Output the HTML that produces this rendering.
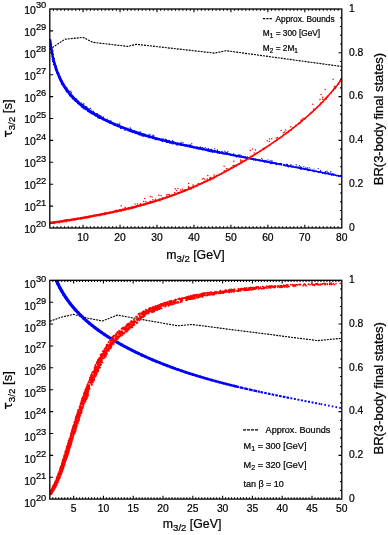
<!DOCTYPE html>
<html><head><meta charset="utf-8"><style>html,body{margin:0;padding:0;background:#fff;overflow:hidden}svg{display:block}</style></head>
<body>
<svg width="388" height="535" viewBox="0 0 388 535" font-family='"Liberation Sans", Arial, sans-serif' fill="#000">
<rect width="388" height="535" fill="#fff"/>
<style>text{stroke:#000;stroke-width:0.22px;paint-order:stroke}</style>
<text x="46.3" y="232.9" text-anchor="end" font-size="10.5">10<tspan font-size="9.3" dy="-5.5">20</tspan></text>
<text x="46.3" y="211" text-anchor="end" font-size="10.5">10<tspan font-size="9.3" dy="-5.5">21</tspan></text>
<text x="46.3" y="189.1" text-anchor="end" font-size="10.5">10<tspan font-size="9.3" dy="-5.5">22</tspan></text>
<text x="46.3" y="167.2" text-anchor="end" font-size="10.5">10<tspan font-size="9.3" dy="-5.5">23</tspan></text>
<text x="46.3" y="145.3" text-anchor="end" font-size="10.5">10<tspan font-size="9.3" dy="-5.5">24</tspan></text>
<text x="46.3" y="123.4" text-anchor="end" font-size="10.5">10<tspan font-size="9.3" dy="-5.5">25</tspan></text>
<text x="46.3" y="101.5" text-anchor="end" font-size="10.5">10<tspan font-size="9.3" dy="-5.5">26</tspan></text>
<text x="46.3" y="79.6" text-anchor="end" font-size="10.5">10<tspan font-size="9.3" dy="-5.5">27</tspan></text>
<text x="46.3" y="57.7" text-anchor="end" font-size="10.5">10<tspan font-size="9.3" dy="-5.5">28</tspan></text>
<text x="46.3" y="35.8" text-anchor="end" font-size="10.5">10<tspan font-size="9.3" dy="-5.5">29</tspan></text>
<text x="46.3" y="13.9" text-anchor="end" font-size="10.5">10<tspan font-size="9.3" dy="-5.5">30</tspan></text>
<text x="349" y="230.8" font-size="10.3">0</text>
<text x="349" y="187" font-size="10.3">0.2</text>
<text x="349" y="143.2" font-size="10.3">0.4</text>
<text x="349" y="99.4" font-size="10.3">0.6</text>
<text x="349" y="55.6" font-size="10.3">0.8</text>
<text x="349" y="11.8" font-size="10.3">1</text>
<text x="83.07" y="241.2" text-anchor="middle" font-size="10.3">10</text>
<text x="120.03" y="241.2" text-anchor="middle" font-size="10.3">20</text>
<text x="156.99" y="241.2" text-anchor="middle" font-size="10.3">30</text>
<text x="193.95" y="241.2" text-anchor="middle" font-size="10.3">40</text>
<text x="230.91" y="241.2" text-anchor="middle" font-size="10.3">50</text>
<text x="267.88" y="241.2" text-anchor="middle" font-size="10.3">60</text>
<text x="304.84" y="241.2" text-anchor="middle" font-size="10.3">70</text>
<text x="341.8" y="241.2" text-anchor="middle" font-size="10.3">80</text>
<text x="46.3" y="506.6" text-anchor="end" font-size="10.5">10<tspan font-size="9.3" dy="-5.5">20</tspan></text>
<text x="46.3" y="484.72" text-anchor="end" font-size="10.5">10<tspan font-size="9.3" dy="-5.5">21</tspan></text>
<text x="46.3" y="462.84" text-anchor="end" font-size="10.5">10<tspan font-size="9.3" dy="-5.5">22</tspan></text>
<text x="46.3" y="440.96" text-anchor="end" font-size="10.5">10<tspan font-size="9.3" dy="-5.5">23</tspan></text>
<text x="46.3" y="419.08" text-anchor="end" font-size="10.5">10<tspan font-size="9.3" dy="-5.5">24</tspan></text>
<text x="46.3" y="397.2" text-anchor="end" font-size="10.5">10<tspan font-size="9.3" dy="-5.5">25</tspan></text>
<text x="46.3" y="375.32" text-anchor="end" font-size="10.5">10<tspan font-size="9.3" dy="-5.5">26</tspan></text>
<text x="46.3" y="353.44" text-anchor="end" font-size="10.5">10<tspan font-size="9.3" dy="-5.5">27</tspan></text>
<text x="46.3" y="331.56" text-anchor="end" font-size="10.5">10<tspan font-size="9.3" dy="-5.5">28</tspan></text>
<text x="46.3" y="309.68" text-anchor="end" font-size="10.5">10<tspan font-size="9.3" dy="-5.5">29</tspan></text>
<text x="46.3" y="287.8" text-anchor="end" font-size="10.5">10<tspan font-size="9.3" dy="-5.5">30</tspan></text>
<text x="349" y="501.9" font-size="10.3">0</text>
<text x="349" y="458.14" font-size="10.3">0.2</text>
<text x="349" y="414.38" font-size="10.3">0.4</text>
<text x="349" y="370.62" font-size="10.3">0.6</text>
<text x="349" y="326.86" font-size="10.3">0.8</text>
<text x="349" y="283.1" font-size="10.3">1</text>
<text x="73.64" y="512.3" text-anchor="middle" font-size="10.3">5</text>
<text x="103.43" y="512.3" text-anchor="middle" font-size="10.3">10</text>
<text x="133.23" y="512.3" text-anchor="middle" font-size="10.3">15</text>
<text x="163.02" y="512.3" text-anchor="middle" font-size="10.3">20</text>
<text x="192.82" y="512.3" text-anchor="middle" font-size="10.3">25</text>
<text x="222.62" y="512.3" text-anchor="middle" font-size="10.3">30</text>
<text x="252.41" y="512.3" text-anchor="middle" font-size="10.3">35</text>
<text x="282.21" y="512.3" text-anchor="middle" font-size="10.3">40</text>
<text x="312" y="512.3" text-anchor="middle" font-size="10.3">45</text>
<text x="341.8" y="512.3" text-anchor="middle" font-size="10.3">50</text>
<text x="195.4" y="259.2" text-anchor="middle" font-size="12.3">m<tspan font-size="9.6" dy="2.6">3/2</tspan><tspan dy="-2.6"> [GeV]</tspan></text>
<text transform="translate(383 119.15) rotate(-90)" text-anchor="middle" font-size="13">BR(3-body final states)</text>
<text transform="translate(11.6 118.5) rotate(-90)" text-anchor="middle" font-size="13"><tspan font-size="12" font-family="&quot;DejaVu Sans&quot;, sans-serif">τ</tspan><tspan font-size="9.8" dy="3.4">3/2</tspan><tspan dy="-3.4"> [s]</tspan></text>
<text x="192.1" y="527.9" text-anchor="middle" font-size="12.3">m<tspan font-size="9.6" dy="2.6">3/2</tspan><tspan dy="-2.6"> [GeV]</tspan></text>
<text transform="translate(383 388.35) rotate(-90)" text-anchor="middle" font-size="13">BR(3-body final states)</text>
<text transform="translate(11.6 390.3) rotate(-90)" text-anchor="middle" font-size="13"><tspan font-size="12" font-family="&quot;DejaVu Sans&quot;, sans-serif">τ</tspan><tspan font-size="9.8" dy="3.4">3/2</tspan><tspan dy="-3.4"> [s]</tspan></text>
<defs><clipPath id="ct"><rect x="49.8" y="9.0" width="292.0" height="219.0"/></clipPath><clipPath id="cb"><rect x="49.8" y="280.3" width="292.0" height="218.8"/></clipPath></defs>
<g clip-path="url(#ct)">
<path d="M49.8 49.3 64.8 39.3 83.1 37.4 92.7 42.3 127.5 46.4 136.5 44.3 214.4 53.1 226 50.7 341.8 66.5" fill="none" stroke="#000" stroke-width="1.15" stroke-linejoin="round" stroke-dasharray="2 1" stroke-linecap="butt"/>
<path d="M50.3 40.22 50.36 40.89 50.42 41.56 50.49 42.24 50.56 42.92 50.64 43.59 50.72 44.27" fill="none" stroke="#0000ff" stroke-width="2.24" stroke-linejoin="round" stroke-linecap="round"/>
<path d="M50.72 44.27 50.8 44.95 50.88 45.64 50.97 46.32 51.07 47 51.16 47.69 51.27 48.37" fill="none" stroke="#0000ff" stroke-width="2.27" stroke-linejoin="round" stroke-linecap="round"/>
<path d="M51.27 48.37 51.37 49.06 51.48 49.75 51.59 50.44 51.71 51.12 51.83 51.81 51.95 52.5" fill="none" stroke="#0000ff" stroke-width="2.32" stroke-linejoin="round" stroke-linecap="round"/>
<path d="M51.95 52.5 52.08 53.19 52.21 53.88 52.35 54.57 52.49 55.26 52.63 55.95 52.78 56.64" fill="none" stroke="#0000ff" stroke-width="2.38" stroke-linejoin="round" stroke-linecap="round"/>
<path d="M52.78 56.64 52.93 57.33 53.09 58.02 53.25 58.7 53.41 59.39 53.58 60.08 53.76 60.76" fill="none" stroke="#0000ff" stroke-width="2.44" stroke-linejoin="round" stroke-linecap="round"/>
<path d="M53.76 60.76 53.93 61.45 54.12 62.13 54.3 62.82 54.49 63.5 54.69 64.18 54.89 64.86" fill="none" stroke="#0000ff" stroke-width="2.52" stroke-linejoin="round" stroke-linecap="round"/>
<path d="M54.89 64.86 55.09 65.54 55.3 66.21 55.51 66.89 55.73 67.56 55.95 68.23 56.17 68.9" fill="none" stroke="#0000ff" stroke-width="2.58" stroke-linejoin="round" stroke-linecap="round"/>
<path d="M56.17 68.9 56.41 69.57 56.64 70.24 56.88 70.9 57.13 71.56 57.37 72.22 57.63 72.88" fill="none" stroke="#0000ff" stroke-width="2.64" stroke-linejoin="round" stroke-linecap="round"/>
<path d="M57.63 72.88 57.89 73.54 58.15 74.19 58.42 74.84 58.69 75.49 58.97 76.13 59.25 76.77" fill="none" stroke="#0000ff" stroke-width="2.72" stroke-linejoin="round" stroke-linecap="round"/>
<path d="M59.25 76.77 59.54 77.41 59.83 78.04 60.13 78.68 60.43 79.31 60.74 79.93 61.05 80.55" fill="none" stroke="#0000ff" stroke-width="2.81" stroke-linejoin="round" stroke-linecap="round"/>
<path d="M61.05 80.55 61.37 81.17 61.69 81.79 62.02 82.4 62.35 83.01 62.69 83.61 63.03 84.21" fill="none" stroke="#0000ff" stroke-width="2.9" stroke-linejoin="round" stroke-linecap="round"/>
<path d="M63.03 84.21 63.38 84.81 63.74 85.4 64.1 85.98 64.46 86.57 64.83 87.15 65.2 87.72" fill="none" stroke="#0000ff" stroke-width="2.89" stroke-linejoin="round" stroke-linecap="round"/>
<path d="M65.2 87.72 65.58 88.29 65.97 88.86 66.36 89.42 66.76 89.97 67.16 90.52 67.56 91.07" fill="none" stroke="#0000ff" stroke-width="2.88" stroke-linejoin="round" stroke-linecap="round"/>
<path d="M67.56 91.07 67.98 91.61 68.39 92.15 68.81 92.68 69.24 93.21 69.67 93.74 70.11 94.26" fill="none" stroke="#0000ff" stroke-width="2.88" stroke-linejoin="round" stroke-linecap="round"/>
<path d="M70.11 94.26 70.55 94.78 70.99 95.29 71.44 95.8 71.9 96.3 72.36 96.8 72.82 97.29" fill="none" stroke="#0000ff" stroke-width="2.87" stroke-linejoin="round" stroke-linecap="round"/>
<path d="M72.82 97.29 73.29 97.79 73.76 98.27 74.24 98.76 74.72 99.23 75.2 99.71 75.69 100.18" fill="none" stroke="#0000ff" stroke-width="2.86" stroke-linejoin="round" stroke-linecap="round"/>
<path d="M75.69 100.18 76.19 100.65 76.68 101.11 77.18 101.57 77.69 102.03 78.2 102.48 78.71 102.93" fill="none" stroke="#0000ff" stroke-width="2.85" stroke-linejoin="round" stroke-linecap="round"/>
<path d="M78.71 102.93 79.23 103.37 79.75 103.81 80.27 104.25 80.8 104.68 81.33 105.11 81.86 105.54" fill="none" stroke="#0000ff" stroke-width="2.84" stroke-linejoin="round" stroke-linecap="round"/>
<path d="M81.86 105.54 82.4 105.96 82.94 106.38 83.48 106.8 84.03 107.21 84.58 107.62 85.13 108.02" fill="none" stroke="#0000ff" stroke-width="2.83" stroke-linejoin="round" stroke-linecap="round"/>
<path d="M85.13 108.02 85.69 108.43 86.25 108.83 86.81 109.22 87.37 109.61 87.94 110 88.51 110.39" fill="none" stroke="#0000ff" stroke-width="2.81" stroke-linejoin="round" stroke-linecap="round"/>
<path d="M88.51 110.39 89.09 110.77 89.66 111.15 90.24 111.53 90.82 111.9 91.4 112.27 91.99 112.64" fill="none" stroke="#0000ff" stroke-width="2.8" stroke-linejoin="round" stroke-linecap="round"/>
<path d="M91.99 112.64 92.58 113.01 93.17 113.37 93.76 113.73 94.35 114.08 94.95 114.43 95.55 114.78" fill="none" stroke="#0000ff" stroke-width="2.79" stroke-linejoin="round" stroke-linecap="round"/>
<path d="M95.55 114.78 96.15 115.13 96.75 115.48 97.36 115.82 97.96 116.16 98.57 116.49 99.18 116.83" fill="none" stroke="#0000ff" stroke-width="2.78" stroke-linejoin="round" stroke-linecap="round"/>
<path d="M99.18 116.83 99.79 117.16 100.4 117.49 101.02 117.82 101.63 118.14 102.25 118.46 102.87 118.78" fill="none" stroke="#0000ff" stroke-width="2.77" stroke-linejoin="round" stroke-linecap="round"/>
<path d="M102.87 118.78 103.49 119.1 104.11 119.41 104.73 119.72 105.36 120.03 105.98 120.34 106.61 120.64" fill="none" stroke="#0000ff" stroke-width="2.75" stroke-linejoin="round" stroke-linecap="round"/>
<path d="M106.61 120.64 107.23 120.95 107.86 121.25 108.49 121.55 109.12 121.84 109.75 122.14 110.38 122.43" fill="none" stroke="#0000ff" stroke-width="2.74" stroke-linejoin="round" stroke-linecap="round"/>
<path d="M110.38 122.43 111.01 122.72 111.64 123.01 112.27 123.29 112.91 123.58 113.54 123.86 114.18 124.14" fill="none" stroke="#0000ff" stroke-width="2.73" stroke-linejoin="round" stroke-linecap="round"/>
<path d="M114.18 124.14 114.81 124.41 115.45 124.69 116.09 124.96 116.72 125.24 117.36 125.51 118 125.77" fill="none" stroke="#0000ff" stroke-width="2.71" stroke-linejoin="round" stroke-linecap="round"/>
<path d="M118 125.77 118.64 126.04 119.29 126.3 119.93 126.57 120.57 126.83 121.21 127.08 121.86 127.34" fill="none" stroke="#0000ff" stroke-width="2.7" stroke-linejoin="round" stroke-linecap="round"/>
<path d="M121.86 127.34 122.5 127.6 123.15 127.85 123.79 128.1 124.44 128.35 125.09 128.6 125.73 128.84" fill="none" stroke="#0000ff" stroke-width="2.68" stroke-linejoin="round" stroke-linecap="round"/>
<path d="M125.73 128.84 126.38 129.09 127.03 129.33 127.68 129.57 128.33 129.81 128.98 130.04 129.64 130.28" fill="none" stroke="#0000ff" stroke-width="2.66" stroke-linejoin="round" stroke-linecap="round"/>
<path d="M129.64 130.28 130.29 130.51 130.94 130.75 131.6 130.98 132.25 131.21 132.9 131.43 133.56 131.66" fill="none" stroke="#0000ff" stroke-width="2.64" stroke-linejoin="round" stroke-linecap="round"/>
<path d="M133.56 131.66 134.22 131.88 134.87 132.11 135.53 132.33 136.19 132.55 136.84 132.76 137.5 132.98" fill="none" stroke="#0000ff" stroke-width="2.62" stroke-linejoin="round" stroke-linecap="round"/>
<path d="M137.5 132.98 138.16 133.2 138.82 133.41 139.48 133.62 140.14 133.83 140.8 134.04 141.47 134.25" fill="none" stroke="#0000ff" stroke-width="2.6" stroke-linejoin="round" stroke-linecap="round"/>
<path d="M141.47 134.25 142.13 134.45 142.79 134.66 143.45 134.86 144.12 135.07 144.78 135.27 145.45 135.47" fill="none" stroke="#0000ff" stroke-width="2.57" stroke-linejoin="round" stroke-linecap="round"/>
<path d="M145.45 135.47 146.11 135.66 146.78 135.86 147.44 136.06 148.11 136.25 148.78 136.44 149.44 136.64" fill="none" stroke="#0000ff" stroke-width="2.55" stroke-linejoin="round" stroke-linecap="round"/>
<path d="M149.44 136.64 150.11 136.83 150.78 137.02 151.45 137.2 152.12 137.39 152.79 137.58 153.46 137.76" fill="none" stroke="#0000ff" stroke-width="2.53" stroke-linejoin="round" stroke-linecap="round"/>
<path d="M153.46 137.76 154.13 137.95 154.8 138.13 155.47 138.31 156.14 138.49 156.81 138.67 157.48 138.85" fill="none" stroke="#0000ff" stroke-width="2.51" stroke-linejoin="round" stroke-linecap="round"/>
<path d="M157.48 138.85 158.15 139.02 158.83 139.2 159.5 139.38 160.17 139.55 160.85 139.72 161.52 139.9" fill="none" stroke="#0000ff" stroke-width="2.49" stroke-linejoin="round" stroke-linecap="round"/>
<path d="M161.52 139.9 162.19 140.07 162.87 140.24 163.54 140.41 164.22 140.57 164.89 140.74 165.57 140.91" fill="none" stroke="#0000ff" stroke-width="2.47" stroke-linejoin="round" stroke-linecap="round"/>
<path d="M165.57 140.91 166.25 141.07 166.92 141.24 167.6 141.4 168.27 141.56 168.95 141.73 169.63 141.89" fill="none" stroke="#0000ff" stroke-width="2.44" stroke-linejoin="round" stroke-linecap="round"/>
<path d="M169.63 141.89 170.3 142.05 170.98 142.21 171.66 142.37 172.34 142.53 173.02 142.68 173.69 142.84" fill="none" stroke="#0000ff" stroke-width="2.42" stroke-linejoin="round" stroke-linecap="round"/>
<path d="M173.69 142.84 174.37 143 175.05 143.15 175.73 143.31 176.41 143.46 177.09 143.61 177.77 143.77" fill="none" stroke="#0000ff" stroke-width="2.4" stroke-linejoin="round" stroke-linecap="round"/>
<path d="M177.77 143.77 178.45 143.92 179.13 144.07 179.81 144.22 180.48 144.37 181.16 144.52 181.84 144.67" fill="none" stroke="#0000ff" stroke-width="2.38" stroke-linejoin="round" stroke-linecap="round"/>
<path d="M181.84 144.67 182.52 144.82 183.21 144.97 183.89 145.12 184.57 145.26 185.25 145.41 185.93 145.56" fill="none" stroke="#0000ff" stroke-width="2.36" stroke-linejoin="round" stroke-linecap="round"/>
<path d="M185.93 145.56 186.61 145.7 187.29 145.85 187.97 145.99 188.65 146.14 189.33 146.28 190.01 146.43" fill="none" stroke="#0000ff" stroke-width="2.33" stroke-linejoin="round" stroke-linecap="round"/>
<path d="M190.01 146.43 190.69 146.57 191.37 146.71 192.05 146.86 192.73 147 193.42 147.14 194.1 147.28" fill="none" stroke="#0000ff" stroke-width="2.31" stroke-linejoin="round" stroke-linecap="round"/>
<path d="M194.1 147.28 194.78 147.43 195.46 147.57 196.14 147.71 196.82 147.85 197.5 147.99 198.18 148.13" fill="none" stroke="#0000ff" stroke-width="2.29" stroke-linejoin="round" stroke-linecap="round"/>
<path d="M198.18 148.13 198.86 148.27 199.54 148.41 200.22 148.55 200.9 148.69 201.59 148.83 202.27 148.97" fill="none" stroke="#0000ff" stroke-width="2.27" stroke-linejoin="round" stroke-linecap="round"/>
<path d="M202.27 148.97 202.95 149.11 203.63 149.25 204.31 149.39 204.99 149.53 205.67 149.67 206.35 149.8" fill="none" stroke="#0000ff" stroke-width="2.25" stroke-linejoin="round" stroke-linecap="round"/>
<path d="M206.35 149.8 207.03 149.94 207.71 150.08 208.39 150.22 209.07 150.36 209.75 150.5 210.43 150.63" fill="none" stroke="#0000ff" stroke-width="2.22" stroke-linejoin="round" stroke-linecap="round"/>
<path d="M210.43 150.63 211.11 150.77 211.79 150.91 212.47 151.05 213.15 151.18 213.83 151.32 214.51 151.46" fill="none" stroke="#0000ff" stroke-width="2.2" stroke-linejoin="round" stroke-linecap="round"/>
<path d="M214.51 151.46 215.19 151.59 215.87 151.73 216.54 151.87 217.22 152 217.9 152.14 218.58 152.28" fill="none" stroke="#0000ff" stroke-width="2.18" stroke-linejoin="round" stroke-linecap="round"/>
<path d="M218.58 152.28 219.26 152.41 219.94 152.55 220.62 152.68 221.3 152.82 221.98 152.95 222.66 153.09" fill="none" stroke="#0000ff" stroke-width="2.16" stroke-linejoin="round" stroke-linecap="round"/>
<path d="M222.66 153.09 223.34 153.23 224.02 153.36 224.7 153.5 225.38 153.63 226.05 153.77 226.73 153.9" fill="none" stroke="#0000ff" stroke-width="2.14" stroke-linejoin="round" stroke-linecap="round"/>
<path d="M226.73 153.9 227.41 154.04 228.09 154.17 228.77 154.3 229.45 154.44 230.13 154.57 230.81 154.71" fill="none" stroke="#0000ff" stroke-width="2.11" stroke-linejoin="round" stroke-linecap="round"/>
<path d="M230.81 154.71 231.49 154.84 232.17 154.98 232.84 155.11 233.52 155.24 234.2 155.38 234.88 155.51" fill="none" stroke="#0000ff" stroke-width="2.09" stroke-linejoin="round" stroke-linecap="round"/>
<path d="M234.88 155.51 235.56 155.64 236.24 155.78 236.92 155.91 237.6 156.04 238.27 156.18 238.95 156.31" fill="none" stroke="#0000ff" stroke-width="2.07" stroke-linejoin="round" stroke-linecap="round"/>
<path d="M238.95 156.31 239.63 156.44 240.31 156.58 240.99 156.71 241.67 156.84 242.35 156.98 243.03 157.11" fill="none" stroke="#0000ff" stroke-width="2.05" stroke-linejoin="round" stroke-linecap="round"/>
<path d="M243.03 157.11 243.7 157.24 244.38 157.37 245.06 157.51 245.74 157.64 246.42 157.77 247.1 157.9" fill="none" stroke="#0000ff" stroke-width="2.03" stroke-linejoin="round" stroke-linecap="round"/>
<path d="M247.1 157.9 247.78 158.04 248.45 158.17 249.13 158.3 249.81 158.43 250.49 158.56 251.17 158.7" fill="none" stroke="#0000ff" stroke-width="2" stroke-linejoin="round" stroke-linecap="round"/>
<path d="M251.17 158.7 251.85 158.83 252.53 158.96 253.2 159.09 253.88 159.22 254.56 159.36 255.24 159.49" fill="none" stroke="#0000ff" stroke-width="1.98" stroke-linejoin="round" stroke-linecap="round"/>
<path d="M255.24 159.49 255.92 159.62 256.6 159.75 257.28 159.88 257.95 160.01 258.63 160.15 259.31 160.28" fill="none" stroke="#0000ff" stroke-width="1.95" stroke-linejoin="round" stroke-linecap="round"/>
<path d="M259.31 160.28 259.99 160.41 260.67 160.54 261.35 160.67 262.03 160.8 262.7 160.94 263.38 161.07" fill="none" stroke="#0000ff" stroke-width="1.93" stroke-linejoin="round" stroke-linecap="round"/>
<path d="M263.38 161.07 264.06 161.2 264.74 161.33 265.42 161.46 266.1 161.59 266.78 161.72 267.46 161.86" fill="none" stroke="#0000ff" stroke-width="1.9" stroke-linejoin="round" stroke-linecap="round"/>
<path d="M267.46 161.86 268.13 161.99 268.81 162.12 269.49 162.25 270.17 162.38 270.85 162.51 271.53 162.64" fill="none" stroke="#0000ff" stroke-width="1.87" stroke-linejoin="round" stroke-linecap="round"/>
<path d="M271.53 162.64 272.21 162.78 272.89 162.91 273.57 163.04 274.24 163.17 274.92 163.3 275.6 163.43" fill="none" stroke="#0000ff" stroke-width="1.85" stroke-linejoin="round" stroke-linecap="round"/>
<path d="M275.6 163.43 276.28 163.56 276.96 163.69 277.64 163.83 278.32 163.96 279 164.09 279.68 164.22" fill="none" stroke="#0000ff" stroke-width="1.82" stroke-linejoin="round" stroke-linecap="round"/>
<path d="M279.68 164.22 280.36 164.35 281.03 164.48 281.71 164.61 282.39 164.75 283.07 164.88 283.75 165.01" fill="none" stroke="#0000ff" stroke-width="1.79" stroke-linejoin="round" stroke-linecap="round"/>
<path d="M283.75 165.01 284.43 165.14 285.11 165.27 285.79 165.4 286.47 165.54 287.15 165.67 287.83 165.8" fill="none" stroke="#0000ff" stroke-width="1.77" stroke-linejoin="round" stroke-linecap="round"/>
<path d="M287.83 165.8 288.51 165.93 289.19 166.06 289.87 166.2 290.55 166.33 291.23 166.46 291.91 166.59" fill="none" stroke="#0000ff" stroke-width="1.74" stroke-linejoin="round" stroke-linecap="round"/>
<path d="M291.91 166.59 292.59 166.72 293.27 166.86 293.95 166.99 294.63 167.12 295.31 167.25 295.99 167.38" fill="none" stroke="#0000ff" stroke-width="1.71" stroke-linejoin="round" stroke-linecap="round"/>
<path d="M295.99 167.38 296.67 167.52 297.35 167.65 298.03 167.78 298.71 167.91 299.39 168.05 300.07 168.18" fill="none" stroke="#0000ff" stroke-width="1.69" stroke-linejoin="round" stroke-linecap="round"/>
<path d="M300.07 168.18 300.75 168.31 301.43 168.45 302.11 168.58 302.79 168.71 303.47 168.84 304.15 168.98" fill="none" stroke="#0000ff" stroke-width="1.66" stroke-linejoin="round" stroke-linecap="round"/>
<path d="M304.15 168.98 304.83 169.11 305.51 169.24 306.19 169.38 306.87 169.51 307.55 169.64 308.23 169.78" fill="none" stroke="#0000ff" stroke-width="1.63" stroke-linejoin="round" stroke-linecap="round"/>
<path d="M308.23 169.78 308.92 169.91 309.6 170.05 310.28 170.18 310.96 170.31 311.64 170.45 312.32 170.58" fill="none" stroke="#0000ff" stroke-width="1.61" stroke-linejoin="round" stroke-linecap="round"/>
<path d="M312.32 170.58 313 170.72 313.68 170.85 314.37 170.99 315.05 171.12 315.73 171.25 316.41 171.39" fill="none" stroke="#0000ff" stroke-width="1.58" stroke-linejoin="round" stroke-linecap="round"/>
<path d="M316.41 171.39 317.09 171.52 317.77 171.66 318.46 171.79 319.14 171.93 319.82 172.06 320.5 172.2" fill="none" stroke="#0000ff" stroke-width="1.55" stroke-linejoin="round" stroke-linecap="round"/>
<path d="M320.5 172.2 321.18 172.34 321.87 172.47 322.55 172.61 323.23 172.74 323.91 172.88 324.6 173.01" fill="none" stroke="#0000ff" stroke-width="1.53" stroke-linejoin="round" stroke-linecap="round"/>
<path d="M324.6 173.01 325.28 173.15 325.96 173.29 326.64 173.42 327.33 173.56 328.01 173.7 328.69 173.83" fill="none" stroke="#0000ff" stroke-width="1.5" stroke-linejoin="round" stroke-linecap="round"/>
<path d="M328.69 173.83 329.38 173.97 330.06 174.11 330.74 174.25 331.43 174.38 332.11 174.52 332.79 174.66" fill="none" stroke="#0000ff" stroke-width="1.47" stroke-linejoin="round" stroke-linecap="round"/>
<path d="M332.79 174.66 333.48 174.8 334.16 174.93 334.84 175.07 335.53 175.21 336.21 175.35 336.89 175.49" fill="none" stroke="#0000ff" stroke-width="1.45" stroke-linejoin="round" stroke-linecap="round"/>
<path d="M336.89 175.49 337.58 175.63 338.26 175.76 338.95 175.9 339.63 176.04 340.32 176.18 341 176.32" fill="none" stroke="#0000ff" stroke-width="1.42" stroke-linejoin="round" stroke-linecap="round"/>
<path d="M341 176.32 341.68 176.46" fill="none" stroke="#0000ff" stroke-width="1.4" stroke-linejoin="round" stroke-linecap="round"/>
<path d="M50.1 40.7h0M50.9 43.7h0M51.2 44.6h0M50.3 45.0h0M50.1 46.0h0M50.1 47.3h0M50.7 47.7h0M50.3 49.8h0M51.2 49.7h0M52.2 49.8h0M51.9 51.3h0M51.7 52.4h0M51.6 53.2h0M53.5 53.8h0M53.5 54.6h0M52.9 55.0h0M53.8 57.8h0M52.9 58.0h0M54.0 58.0h0M54.5 58.7h0M52.1 59.3h0M53.6 60.7h0M52.5 61.2h0M52.9 61.7h0M55.2 63.1h0M53.4 64.4h0M54.3 64.4h0M56.3 65.9h0M54.9 67.1h0M56.3 66.9h0M55.9 68.1h0M55.1 69.2h0M55.7 70.0h0M55.8 70.0h0M55.9 70.2h0M56.2 70.9h0M57.2 71.4h0M58.1 72.3h0M57.1 73.0h0M59.0 73.3h0M58.2 73.7h0M57.9 74.3h0M58.3 74.1h0M58.9 73.9h0M59.0 77.4h0M60.6 77.2h0M60.8 78.5h0M61.1 81.7h0M62.4 82.1h0M62.0 82.6h0M61.3 84.2h0M64.9 86.4h0M64.6 87.8h0M64.9 87.6h0M67.1 88.2h0M66.6 88.8h0M66.5 88.9h0M66.3 90.3h0M67.7 89.6h0M66.0 91.1h0M67.0 91.9h0M69.8 93.6h0M69.7 95.3h0M70.1 96.4h0M72.3 95.4h0M71.7 96.2h0M72.1 95.9h0M71.6 96.7h0M73.4 96.3h0M72.3 98.8h0M73.6 97.6h0M73.3 98.9h0M75.4 98.5h0M76.3 98.7h0M75.3 100.4h0M77.8 100.3h0M77.8 101.1h0M77.5 102.9h0M77.7 103.1h0M79.3 104.7h0M80.3 103.9h0M81.5 104.0h0M82.3 104.1h0M83.6 104.9h0M82.0 107.4h0M83.0 106.0h0M82.8 108.0h0M84.1 107.1h0M83.7 108.8h0M86.0 107.0h0M85.8 107.7h0M86.0 108.4h0M87.3 107.8h0M87.9 108.6h0M87.8 111.4h0M89.3 111.0h0M89.1 112.6h0M90.6 112.3h0M90.4 113.0h0M92.8 112.0h0M93.2 111.4h0M91.9 113.9h0M94.2 112.6h0M94.5 112.5h0M94.1 113.7h0M94.5 115.0h0M95.1 114.4h0M95.0 115.2h0M96.1 113.7h0M95.6 115.1h0M96.2 114.0h0M95.7 115.9h0M96.8 114.9h0M97.7 116.4h0M97.6 117.6h0M98.1 117.3h0M99.2 115.3h0M98.3 118.0h0M99.1 118.1h0M99.5 118.5h0M100.4 117.8h0M100.6 117.9h0M103.0 117.7h0M103.1 119.6h0M104.0 119.6h0M104.0 119.5h0M108.0 120.4h0M108.3 121.1h0M108.7 120.7h0M108.9 121.4h0M110.0 121.4h0M109.8 121.8h0M111.0 121.6h0M111.6 123.5h0M112.6 122.5h0M114.9 123.3h0M114.8 123.7h0M115.1 124.7h0M114.9 125.2h0M117.7 126.2h0M120.6 128.4h0M121.8 126.8h0M122.2 127.1h0M123.3 127.8h0M124.6 127.3h0M124.8 130.2h0M125.3 129.7h0M126.7 128.8h0M127.7 129.7h0M128.1 130.8h0M130.0 129.0h0M130.4 131.7h0M131.5 129.4h0M131.5 129.3h0M132.5 130.3h0M132.2 132.6h0M133.3 131.1h0M133.9 131.6h0M135.4 131.1h0M135.8 131.5h0M135.0 133.6h0M136.1 133.6h0M136.8 132.3h0M137.9 133.1h0M138.3 133.4h0M138.4 134.6h0M139.8 135.3h0M140.8 132.9h0M141.7 133.6h0M142.2 134.5h0M142.4 135.4h0M142.2 136.0h0M143.1 133.9h0M142.8 135.8h0M142.9 136.2h0M143.6 134.8h0M143.5 136.1h0M146.6 136.1h0M147.1 135.3h0M147.2 136.7h0M149.0 137.9h0M152.7 137.5h0M152.9 136.7h0M152.7 138.6h0M153.6 136.4h0M154.1 137.3h0M154.1 137.1h0M155.0 139.6h0M155.7 137.9h0M155.8 139.6h0M156.5 138.8h0M157.5 139.0h0M157.9 139.6h0M158.2 139.3h0M158.7 139.2h0M159.5 138.4h0M162.0 141.5h0M162.4 141.0h0M162.3 141.6h0M163.7 139.1h0M165.1 140.5h0M166.4 139.7h0M166.3 141.1h0M166.1 141.7h0M166.5 140.0h0M166.7 142.5h0M167.7 140.5h0M167.7 142.4h0M168.1 141.8h0M168.8 141.3h0M169.6 142.1h0M169.6 143.1h0M170.2 142.7h0M170.7 142.8h0M171.3 143.5h0M171.5 142.6h0M173.0 141.7h0M172.8 144.1h0M173.7 142.0h0M174.2 142.2h0M175.2 143.6h0M175.5 143.2h0M176.3 144.3h0M176.9 145.0h0M177.2 145.0h0M177.6 144.1h0M177.7 145.1h0M178.0 143.5h0M180.4 143.2h0M180.3 144.9h0M180.7 145.3h0M181.4 143.3h0M181.9 144.5h0M182.1 144.5h0M182.6 144.8h0M183.2 145.6h0M184.2 145.7h0M186.2 144.9h0M186.2 144.7h0M187.6 145.2h0M187.4 146.1h0M188.7 145.1h0M190.1 145.5h0M190.7 145.2h0M190.9 146.4h0M191.7 147.6h0M192.1 145.8h0M193.2 147.6h0M193.6 147.1h0M194.1 147.1h0M196.4 148.4h0M197.0 146.6h0M196.7 148.4h0M196.8 148.8h0M197.6 147.5h0M199.0 149.5h0M199.7 147.3h0M200.9 147.4h0M200.8 148.0h0M201.1 149.3h0M201.3 149.6h0M201.3 149.3h0M202.3 148.1h0M202.6 149.3h0M202.8 149.6h0M203.1 148.1h0M202.9 150.2h0M204.4 149.3h0M204.6 149.3h0M206.7 149.1h0M207.3 150.0h0M207.5 150.0h0M207.3 151.0h0M208.8 151.6h0M209.1 150.1h0M208.8 151.5h0M209.3 151.4h0M210.0 150.3h0M210.6 150.0h0M211.1 150.3h0M210.8 151.8h0M211.9 149.7h0M212.0 151.9h0M212.8 152.0h0M212.7 152.3h0M214.4 150.3h0M214.4 151.3h0M215.1 150.4h0M215.3 151.0h0M216.0 151.0h0M217.6 153.2h0M218.0 151.3h0M218.2 151.6h0M218.7 151.6h0M219.5 151.3h0M219.6 153.5h0M222.9 153.6h0M223.6 154.0h0M224.3 154.1h0M225.8 153.2h0M227.6 153.2h0M228.1 154.4h0M229.0 153.4h0M230.0 154.0h0M230.4 154.3h0M231.3 154.8h0M233.7 154.1h0M236.3 156.7h0M236.6 156.3h0M237.0 156.9h0M237.3 155.3h0M239.6 155.5h0M239.6 156.7h0M240.6 157.0h0M241.3 157.2h0M242.0 156.0h0M244.8 157.7h0M245.3 157.7h0M245.5 156.7h0M246.4 158.6h0M247.5 156.9h0M248.1 159.1h0M248.8 158.1h0M249.0 158.5h0M251.0 158.3h0M251.4 158.9h0M253.5 160.0h0M254.6 159.5h0M255.7 160.3h0M255.7 160.4h0M258.2 160.5h0M260.4 160.9h0M262.2 161.3h0M262.7 159.8h0M264.3 162.3h0M264.9 160.3h0M264.7 161.1h0M266.1 160.5h0M267.8 161.2h0M269.8 161.2h0M270.4 163.3h0M270.9 163.7h0M271.5 162.8h0M271.7 161.8h0M272.1 162.4h0M272.5 163.1h0M273.0 163.2h0M273.3 163.1h0M274.5 163.1h0M274.8 162.9h0M275.4 163.8h0M275.7 163.5h0M276.1 162.9h0M276.5 164.7h0M277.0 163.7h0M280.6 163.3h0M281.0 163.8h0M281.6 163.5h0M281.8 165.0h0M282.9 165.7h0M284.2 164.7h0M285.5 165.7h0M287.4 166.5h0M288.5 167.0h0M290.7 165.3h0M291.9 166.7h0M292.2 166.4h0M293.1 165.8h0M293.2 166.7h0M295.9 166.9h0M297.1 167.3h0M298.5 167.1h0M298.6 167.7h0M298.9 167.6h0M299.2 167.1h0M301.1 167.9h0M301.2 167.6h0M300.8 169.4h0M301.5 167.4h0M301.6 168.2h0M301.7 168.6h0M302.0 168.4h0M303.1 168.1h0M304.8 169.6h0M305.8 168.4h0M305.9 169.2h0M307.3 168.8h0M307.3 170.3h0M308.5 170.6h0M308.7 169.6h0M309.1 170.1h0M309.8 170.3h0M312.7 170.0h0M313.3 170.7h0M313.9 171.6h0M314.9 171.7h0M315.2 171.5h0M318.3 172.3h0M318.9 172.1h0M319.4 172.1h0M320.4 172.4h0M321.0 171.7h0M322.5 173.0h0M322.7 173.4h0M324.5 173.5h0M325.1 174.0h0M325.8 173.2h0M326.2 173.7h0M327.6 173.0h0M329.2 174.0h0M329.8 174.6h0M331.5 175.3h0M331.7 174.0h0M332.1 173.6h0M332.3 173.8h0M333.2 174.2h0M333.5 174.0h0M333.6 175.1h0M334.8 174.2h0M337.0 176.0h0M338.4 175.3h0M338.7 176.4h0M338.9 176.6h0M340.4 175.4h0M341.6 175.7h0" fill="none" stroke="#0000ff" stroke-width="1.2" stroke-linecap="round"/>
<path d="M53.2 50.9h0M69.9 91.3h0M70.9 91.1h0M71.6 92.5h0M77.9 100.5h0M81.2 102.8h0M82.8 104.7h0M83.8 103.5h0M84.0 104.0h0M84.8 106.2h0M85.6 106.7h0M86.9 106.6h0M86.4 107.3h0M89.0 108.8h0M88.8 109.1h0M88.9 108.9h0M90.4 108.4h0M89.6 109.6h0M91.7 110.0h0M93.3 111.3h0M96.3 113.8h0M97.5 113.7h0M97.8 114.3h0M98.5 115.0h0M99.1 115.0h0M100.3 115.9h0M101.2 116.2h0M102.9 117.2h0M103.2 116.8h0M107.6 119.0h0M110.8 120.3h0M117.4 123.9h0M118.9 124.2h0M119.9 123.0h0M119.6 124.9h0M119.6 125.0h0M128.0 128.0h0M130.2 127.9h0M130.6 128.2h0M134.5 130.6h0M136.8 131.4h0M136.8 131.4h0M138.7 132.0h0M139.2 132.1h0M140.1 132.6h0M140.3 131.9h0M144.0 133.7h0M148.8 134.8h0M150.0 134.2h0M152.1 136.0h0M152.9 135.1h0M153.8 135.7h0M162.7 138.9h0M165.7 139.0h0M166.1 139.7h0M169.0 140.3h0M169.5 140.5h0M172.5 140.5h0M180.2 142.9h0M181.9 142.1h0M183.3 142.8h0M190.0 144.6h0M190.9 145.3h0M191.8 143.6h0M200.3 146.8h0M202.7 147.8h0M205.2 147.6h0M208.1 148.8h0M208.6 148.6h0M211.0 149.4h0M211.5 149.3h0M214.7 148.6h0M217.4 150.7h0M217.5 149.9h0M221.8 151.6h0M222.3 151.3h0M224.4 151.0h0M225.3 151.9h0M226.7 152.5h0M227.2 152.4h0M227.9 151.5h0M233.5 153.9h0M238.4 154.9h0M240.0 154.6h0M241.4 155.5h0M250.9 156.4h0M261.7 158.4h0M268.0 159.8h0M271.0 160.4h0M272.4 161.0h0M282.6 163.4h0M286.5 164.2h0M287.5 164.4h0M291.0 164.7h0M296.1 164.7h0M296.9 166.1h0M299.5 165.7h0M300.8 166.7h0M303.9 166.7h0M305.7 167.9h0M307.2 167.8h0M307.7 168.2h0M309.3 167.8h0M310.6 169.0h0M314.1 169.0h0M318.3 168.6h0M320.5 170.3h0M325.3 171.6h0M325.8 171.8h0M327.0 171.1h0M327.3 172.0h0M328.7 172.5h0M330.9 171.7h0M330.7 173.0h0" fill="none" stroke="#0000ff" stroke-width="1.2" stroke-linecap="round"/>
<path d="M282.6 160v8" stroke="#fff" stroke-width="0.9"/>
<path d="M49.79 223.09 50.44 223 51.1 222.9 51.76 222.8 52.42 222.7 53.08 222.61 53.74 222.51" fill="none" stroke="#ff0000" stroke-width="2.4" stroke-linejoin="round" stroke-linecap="round"/>
<path d="M53.74 222.51 54.39 222.41 55.05 222.31 55.71 222.21 56.37 222.11 57.03 222.02 57.69 221.92" fill="none" stroke="#ff0000" stroke-width="2.39" stroke-linejoin="round" stroke-linecap="round"/>
<path d="M57.69 221.92 58.35 221.82 59.01 221.72 59.67 221.62 60.33 221.51 60.98 221.41 61.64 221.31" fill="none" stroke="#ff0000" stroke-width="2.38" stroke-linejoin="round" stroke-linecap="round"/>
<path d="M61.64 221.31 62.3 221.21 62.96 221.11 63.62 221.01 64.28 220.9 64.94 220.8 65.6 220.7" fill="none" stroke="#ff0000" stroke-width="2.37" stroke-linejoin="round" stroke-linecap="round"/>
<path d="M65.6 220.7 66.26 220.59 66.92 220.49 67.58 220.39 68.24 220.28 68.9 220.18 69.56 220.07" fill="none" stroke="#ff0000" stroke-width="2.36" stroke-linejoin="round" stroke-linecap="round"/>
<path d="M69.56 220.07 70.22 219.96 70.88 219.86 71.54 219.75 72.2 219.64 72.86 219.54 73.52 219.43" fill="none" stroke="#ff0000" stroke-width="2.35" stroke-linejoin="round" stroke-linecap="round"/>
<path d="M73.52 219.43 74.18 219.32 74.84 219.21 75.5 219.1 76.16 218.99 76.82 218.88 77.48 218.77" fill="none" stroke="#ff0000" stroke-width="2.34" stroke-linejoin="round" stroke-linecap="round"/>
<path d="M77.48 218.77 78.14 218.66 78.8 218.55 79.46 218.44 80.12 218.33 80.77 218.21 81.43 218.1" fill="none" stroke="#ff0000" stroke-width="2.33" stroke-linejoin="round" stroke-linecap="round"/>
<path d="M81.43 218.1 82.09 217.99 82.75 217.87 83.41 217.76 84.07 217.64 84.73 217.53 85.39 217.41" fill="none" stroke="#ff0000" stroke-width="2.33" stroke-linejoin="round" stroke-linecap="round"/>
<path d="M85.39 217.41 86.05 217.3 86.71 217.18 87.37 217.06 88.03 216.94 88.69 216.83 89.34 216.71" fill="none" stroke="#ff0000" stroke-width="2.32" stroke-linejoin="round" stroke-linecap="round"/>
<path d="M89.34 216.71 90 216.59 90.66 216.47 91.32 216.35 91.98 216.23 92.64 216.1 93.3 215.98" fill="none" stroke="#ff0000" stroke-width="2.31" stroke-linejoin="round" stroke-linecap="round"/>
<path d="M93.3 215.98 93.95 215.86 94.61 215.74 95.27 215.61 95.93 215.49 96.59 215.36 97.25 215.24" fill="none" stroke="#ff0000" stroke-width="2.3" stroke-linejoin="round" stroke-linecap="round"/>
<path d="M97.25 215.24 97.9 215.11 98.56 214.98 99.22 214.86 99.88 214.73 100.53 214.6 101.19 214.47" fill="none" stroke="#ff0000" stroke-width="2.29" stroke-linejoin="round" stroke-linecap="round"/>
<path d="M101.19 214.47 101.85 214.34 102.5 214.21 103.16 214.08 103.82 213.95 104.47 213.82 105.13 213.68" fill="none" stroke="#ff0000" stroke-width="2.28" stroke-linejoin="round" stroke-linecap="round"/>
<path d="M105.13 213.68 105.79 213.55 106.44 213.42 107.1 213.28 107.75 213.15 108.41 213.01 109.06 212.87" fill="none" stroke="#ff0000" stroke-width="2.27" stroke-linejoin="round" stroke-linecap="round"/>
<path d="M109.06 212.87 109.72 212.74 110.38 212.6 111.03 212.46 111.69 212.32 112.34 212.18 112.99 212.04" fill="none" stroke="#ff0000" stroke-width="2.26" stroke-linejoin="round" stroke-linecap="round"/>
<path d="M112.99 212.04 113.65 211.9 114.3 211.75 114.96 211.61 115.61 211.47 116.26 211.32 116.92 211.18" fill="none" stroke="#ff0000" stroke-width="2.26" stroke-linejoin="round" stroke-linecap="round"/>
<path d="M116.92 211.18 117.57 211.03 118.22 210.89 118.88 210.74 119.53 210.59 120.18 210.44 120.83 210.29" fill="none" stroke="#ff0000" stroke-width="2.25" stroke-linejoin="round" stroke-linecap="round"/>
<path d="M120.83 210.29 121.49 210.14 122.14 209.99 122.79 209.84 123.44 209.69 124.09 209.53 124.74 209.38" fill="none" stroke="#ff0000" stroke-width="2.24" stroke-linejoin="round" stroke-linecap="round"/>
<path d="M124.74 209.38 125.39 209.23 126.04 209.07 126.69 208.91 127.34 208.76 127.99 208.6 128.64 208.44" fill="none" stroke="#ff0000" stroke-width="2.23" stroke-linejoin="round" stroke-linecap="round"/>
<path d="M128.64 208.44 129.29 208.28 129.94 208.12 130.59 207.96 131.24 207.8 131.89 207.63 132.53 207.47" fill="none" stroke="#ff0000" stroke-width="2.22" stroke-linejoin="round" stroke-linecap="round"/>
<path d="M132.53 207.47 133.18 207.3 133.83 207.14 134.48 206.97 135.12 206.81 135.77 206.64 136.42 206.47" fill="none" stroke="#ff0000" stroke-width="2.21" stroke-linejoin="round" stroke-linecap="round"/>
<path d="M136.42 206.47 137.06 206.3 137.71 206.13 138.35 205.96 139 205.78 139.64 205.61 140.29 205.44" fill="none" stroke="#ff0000" stroke-width="2.2" stroke-linejoin="round" stroke-linecap="round"/>
<path d="M140.29 205.44 140.93 205.26 141.58 205.09 142.22 204.91 142.86 204.73 143.51 204.55 144.15 204.37" fill="none" stroke="#ff0000" stroke-width="2.19" stroke-linejoin="round" stroke-linecap="round"/>
<path d="M144.15 204.37 144.79 204.19 145.43 204.01 146.08 203.83 146.72 203.65 147.36 203.46 148 203.28" fill="none" stroke="#ff0000" stroke-width="2.16" stroke-linejoin="round" stroke-linecap="round"/>
<path d="M148 203.28 148.64 203.09 149.28 202.9 149.92 202.71 150.56 202.53 151.2 202.34 151.84 202.14" fill="none" stroke="#ff0000" stroke-width="2.13" stroke-linejoin="round" stroke-linecap="round"/>
<path d="M151.84 202.14 152.48 201.95 153.12 201.76 153.75 201.57 154.39 201.37 155.03 201.17 155.66 200.98" fill="none" stroke="#ff0000" stroke-width="2.11" stroke-linejoin="round" stroke-linecap="round"/>
<path d="M155.66 200.98 156.3 200.78 156.94 200.58 157.57 200.38 158.21 200.18 158.84 199.98 159.48 199.77" fill="none" stroke="#ff0000" stroke-width="2.08" stroke-linejoin="round" stroke-linecap="round"/>
<path d="M159.48 199.77 160.11 199.57 160.75 199.37 161.38 199.16 162.01 198.95 162.64 198.74 163.28 198.53" fill="none" stroke="#ff0000" stroke-width="2.06" stroke-linejoin="round" stroke-linecap="round"/>
<path d="M163.28 198.53 163.91 198.32 164.54 198.11 165.17 197.9 165.8 197.69 166.43 197.47 167.06 197.26" fill="none" stroke="#ff0000" stroke-width="2.03" stroke-linejoin="round" stroke-linecap="round"/>
<path d="M167.06 197.26 167.69 197.04 168.32 196.82 168.95 196.6 169.58 196.38 170.2 196.16 170.83 195.94" fill="none" stroke="#ff0000" stroke-width="2.01" stroke-linejoin="round" stroke-linecap="round"/>
<path d="M170.83 195.94 171.46 195.71 172.08 195.49 172.71 195.26 173.34 195.03 173.96 194.81 174.59 194.58" fill="none" stroke="#ff0000" stroke-width="1.98" stroke-linejoin="round" stroke-linecap="round"/>
<path d="M174.59 194.58 175.21 194.35 175.83 194.12 176.46 193.88 177.08 193.65 177.7 193.41 178.32 193.18" fill="none" stroke="#ff0000" stroke-width="1.96" stroke-linejoin="round" stroke-linecap="round"/>
<path d="M178.32 193.18 178.94 192.94 179.57 192.7 180.19 192.46 180.81 192.22 181.43 191.98 182.05 191.73" fill="none" stroke="#ff0000" stroke-width="1.93" stroke-linejoin="round" stroke-linecap="round"/>
<path d="M182.05 191.73 182.66 191.49 183.28 191.24 183.9 191 184.52 190.75 185.13 190.5 185.75 190.25" fill="none" stroke="#ff0000" stroke-width="1.91" stroke-linejoin="round" stroke-linecap="round"/>
<path d="M185.75 190.25 186.37 190 186.98 189.75 187.6 189.5 188.21 189.24 188.83 188.99 189.44 188.73" fill="none" stroke="#ff0000" stroke-width="1.88" stroke-linejoin="round" stroke-linecap="round"/>
<path d="M189.44 188.73 190.05 188.47 190.67 188.21 191.28 187.95 191.89 187.69 192.5 187.43 193.11 187.17" fill="none" stroke="#ff0000" stroke-width="1.86" stroke-linejoin="round" stroke-linecap="round"/>
<path d="M193.11 187.17 193.72 186.9 194.33 186.64 194.94 186.37 195.55 186.11 196.16 185.84 196.77 185.57" fill="none" stroke="#ff0000" stroke-width="1.83" stroke-linejoin="round" stroke-linecap="round"/>
<path d="M196.77 185.57 197.38 185.3 197.99 185.03 198.59 184.75 199.2 184.48 199.81 184.21 200.41 183.93" fill="none" stroke="#ff0000" stroke-width="1.81" stroke-linejoin="round" stroke-linecap="round"/>
<path d="M200.41 183.93 201.02 183.65 201.62 183.38 202.23 183.1 202.83 182.82 203.44 182.54 204.04 182.26" fill="none" stroke="#ff0000" stroke-width="1.79" stroke-linejoin="round" stroke-linecap="round"/>
<path d="M204.04 182.26 204.64 181.97 205.25 181.69 205.85 181.41 206.45 181.12 207.05 180.84 207.65 180.55" fill="none" stroke="#ff0000" stroke-width="1.77" stroke-linejoin="round" stroke-linecap="round"/>
<path d="M207.65 180.55 208.25 180.26 208.85 179.97 209.45 179.68 210.05 179.39 210.65 179.1 211.25 178.8" fill="none" stroke="#ff0000" stroke-width="1.75" stroke-linejoin="round" stroke-linecap="round"/>
<path d="M211.25 178.8 211.85 178.51 212.44 178.21 213.04 177.92 213.64 177.62 214.23 177.32 214.83 177.03" fill="none" stroke="#ff0000" stroke-width="1.73" stroke-linejoin="round" stroke-linecap="round"/>
<path d="M214.83 177.03 215.42 176.73 216.02 176.43 216.61 176.12 217.21 175.82 217.8 175.52 218.39 175.22" fill="none" stroke="#ff0000" stroke-width="1.72" stroke-linejoin="round" stroke-linecap="round"/>
<path d="M218.39 175.22 218.99 174.91 219.58 174.6 220.17 174.3 220.76 173.99 221.36 173.68 221.95 173.37" fill="none" stroke="#ff0000" stroke-width="1.7" stroke-linejoin="round" stroke-linecap="round"/>
<path d="M221.95 173.37 222.54 173.06 223.13 172.75 223.72 172.44 224.31 172.13 224.9 171.81 225.48 171.5" fill="none" stroke="#ff0000" stroke-width="1.68" stroke-linejoin="round" stroke-linecap="round"/>
<path d="M225.48 171.5 226.07 171.18 226.66 170.87 227.25 170.55 227.83 170.23 228.42 169.91 229.01 169.59" fill="none" stroke="#ff0000" stroke-width="1.66" stroke-linejoin="round" stroke-linecap="round"/>
<path d="M229.01 169.59 229.59 169.27 230.18 168.95 230.76 168.63 231.35 168.31 231.93 167.98 232.52 167.66" fill="none" stroke="#ff0000" stroke-width="1.65" stroke-linejoin="round" stroke-linecap="round"/>
<path d="M232.52 167.66 233.1 167.33 233.68 167.01 234.27 166.68 234.85 166.35 235.43 166.02 236.01 165.69" fill="none" stroke="#ff0000" stroke-width="1.63" stroke-linejoin="round" stroke-linecap="round"/>
<path d="M236.01 165.69 236.59 165.36 237.17 165.03 237.75 164.7 238.33 164.37 238.91 164.04 239.49 163.7" fill="none" stroke="#ff0000" stroke-width="1.61" stroke-linejoin="round" stroke-linecap="round"/>
<path d="M239.49 163.7 240.07 163.37 240.65 163.03 241.23 162.7 241.8 162.36 242.38 162.02 242.96 161.68" fill="none" stroke="#ff0000" stroke-width="1.59" stroke-linejoin="round" stroke-linecap="round"/>
<path d="M242.96 161.68 243.54 161.35 244.11 161.01 244.69 160.67 245.26 160.32 245.84 159.98 246.41 159.64" fill="none" stroke="#ff0000" stroke-width="1.58" stroke-linejoin="round" stroke-linecap="round"/>
<path d="M246.41 159.64 246.99 159.3 247.56 158.95 248.13 158.61 248.71 158.26 249.28 157.92 249.85 157.57" fill="none" stroke="#ff0000" stroke-width="1.56" stroke-linejoin="round" stroke-linecap="round"/>
<path d="M249.85 157.57 250.43 157.22 251 156.87 251.57 156.53 252.14 156.18 252.71 155.83 253.28 155.47" fill="none" stroke="#ff0000" stroke-width="1.54" stroke-linejoin="round" stroke-linecap="round"/>
<path d="M253.28 155.47 253.85 155.12 254.42 154.77 254.99 154.42 255.56 154.06 256.12 153.71 256.69 153.35" fill="none" stroke="#ff0000" stroke-width="1.53" stroke-linejoin="round" stroke-linecap="round"/>
<path d="M256.69 153.35 257.26 153 257.82 152.64 258.39 152.28 258.96 151.93 259.52 151.57 260.09 151.21" fill="none" stroke="#ff0000" stroke-width="1.51" stroke-linejoin="round" stroke-linecap="round"/>
<path d="M260.09 151.21 260.65 150.85 261.22 150.48 261.78 150.12 262.34 149.76 262.9 149.4 263.47 149.03" fill="none" stroke="#ff0000" stroke-width="1.5" stroke-linejoin="round" stroke-linecap="round"/>
<path d="M263.47 149.03 264.03 148.67 264.59 148.3 265.15 147.94 265.71 147.57 266.27 147.2 266.83 146.83" fill="none" stroke="#ff0000" stroke-width="1.5" stroke-linejoin="round" stroke-linecap="round"/>
<path d="M266.83 146.83 267.38 146.46 267.94 146.09 268.5 145.72 269.06 145.35 269.61 144.98 270.17 144.6" fill="none" stroke="#ff0000" stroke-width="1.5" stroke-linejoin="round" stroke-linecap="round"/>
<path d="M270.17 144.6 270.72 144.23 271.28 143.85 271.83 143.48 272.38 143.1 272.94 142.72 273.49 142.34" fill="none" stroke="#ff0000" stroke-width="1.5" stroke-linejoin="round" stroke-linecap="round"/>
<path d="M273.49 142.34 274.04 141.96 274.59 141.58 275.14 141.2 275.69 140.82 276.24 140.44 276.79 140.06" fill="none" stroke="#ff0000" stroke-width="1.5" stroke-linejoin="round" stroke-linecap="round"/>
<path d="M276.79 140.06 277.34 139.67 277.88 139.29 278.43 138.9 278.98 138.52 279.52 138.13 280.07 137.74" fill="none" stroke="#ff0000" stroke-width="1.5" stroke-linejoin="round" stroke-linecap="round"/>
<path d="M280.07 137.74 280.61 137.35 281.15 136.96 281.7 136.57 282.24 136.18 282.78 135.79 283.32 135.39" fill="none" stroke="#ff0000" stroke-width="1.5" stroke-linejoin="round" stroke-linecap="round"/>
<path d="M283.32 135.39 283.86 135 284.4 134.6 284.94 134.21 285.48 133.81 286.01 133.41 286.55 133.02" fill="none" stroke="#ff0000" stroke-width="1.5" stroke-linejoin="round" stroke-linecap="round"/>
<path d="M286.55 133.02 287.09 132.62 287.62 132.22 288.16 131.82 288.69 131.41 289.22 131.01 289.75 130.61" fill="none" stroke="#ff0000" stroke-width="1.5" stroke-linejoin="round" stroke-linecap="round"/>
<path d="M289.75 130.61 290.29 130.2 290.82 129.8 291.35 129.39 291.88 128.98 292.4 128.58 292.93 128.17" fill="none" stroke="#ff0000" stroke-width="1.5" stroke-linejoin="round" stroke-linecap="round"/>
<path d="M292.93 128.17 293.46 127.76 293.98 127.35 294.51 126.93 295.03 126.52 295.56 126.11 296.08 125.69" fill="none" stroke="#ff0000" stroke-width="1.5" stroke-linejoin="round" stroke-linecap="round"/>
<path d="M296.08 125.69 296.6 125.28 297.12 124.86 297.64 124.44 298.16 124.03 298.68 123.61 299.2 123.19" fill="none" stroke="#ff0000" stroke-width="1.5" stroke-linejoin="round" stroke-linecap="round"/>
<path d="M299.2 123.19 299.72 122.77 300.23 122.34 300.75 121.92 301.26 121.5 301.77 121.07 302.29 120.64" fill="none" stroke="#ff0000" stroke-width="1.5" stroke-linejoin="round" stroke-linecap="round"/>
<path d="M302.29 120.64 302.8 120.22 303.31 119.79 303.82 119.36 304.33 118.93 304.83 118.5 305.34 118.06" fill="none" stroke="#ff0000" stroke-width="1.5" stroke-linejoin="round" stroke-linecap="round"/>
<path d="M305.34 118.06 305.84 117.63 306.35 117.19 306.85 116.76 307.35 116.32 307.86 115.88 308.36 115.44" fill="none" stroke="#ff0000" stroke-width="1.5" stroke-linejoin="round" stroke-linecap="round"/>
<path d="M308.36 115.44 308.85 115 309.35 114.56 309.85 114.12 310.34 113.67 310.84 113.23 311.33 112.78" fill="none" stroke="#ff0000" stroke-width="1.5" stroke-linejoin="round" stroke-linecap="round"/>
<path d="M311.33 112.78 311.82 112.33 312.32 111.88 312.81 111.43 313.29 110.98 313.78 110.53 314.27 110.08" fill="none" stroke="#ff0000" stroke-width="1.5" stroke-linejoin="round" stroke-linecap="round"/>
<path d="M314.27 110.08 314.75 109.62 315.24 109.16 315.72 108.71 316.2 108.25 316.68 107.79 317.16 107.33" fill="none" stroke="#ff0000" stroke-width="1.5" stroke-linejoin="round" stroke-linecap="round"/>
<path d="M317.16 107.33 317.64 106.86 318.11 106.4 318.59 105.93 319.06 105.47 319.54 105 320.01 104.53" fill="none" stroke="#ff0000" stroke-width="1.5" stroke-linejoin="round" stroke-linecap="round"/>
<path d="M320.01 104.53 320.48 104.06 320.94 103.59 321.41 103.11 321.88 102.64 322.34 102.16 322.81 101.69" fill="none" stroke="#ff0000" stroke-width="1.5" stroke-linejoin="round" stroke-linecap="round"/>
<path d="M322.81 101.69 323.27 101.21 323.73 100.73 324.19 100.24 324.64 99.76 325.1 99.28 325.55 98.79" fill="none" stroke="#ff0000" stroke-width="1.5" stroke-linejoin="round" stroke-linecap="round"/>
<path d="M325.55 98.79 326.01 98.3 326.46 97.81 326.91 97.32 327.36 96.83 327.8 96.34 328.25 95.84" fill="none" stroke="#ff0000" stroke-width="1.5" stroke-linejoin="round" stroke-linecap="round"/>
<path d="M328.25 95.84 328.69 95.35 329.14 94.85 329.58 94.35 330.02 93.85 330.46 93.35 330.89 92.84" fill="none" stroke="#ff0000" stroke-width="1.5" stroke-linejoin="round" stroke-linecap="round"/>
<path d="M330.89 92.84 331.33 92.34 331.76 91.83 332.19 91.32 332.62 90.81 333.05 90.3 333.48 89.79" fill="none" stroke="#ff0000" stroke-width="1.5" stroke-linejoin="round" stroke-linecap="round"/>
<path d="M333.48 89.79 333.9 89.27 334.33 88.75 334.75 88.24 335.17 87.72 335.59 87.19 336 86.67" fill="none" stroke="#ff0000" stroke-width="1.5" stroke-linejoin="round" stroke-linecap="round"/>
<path d="M336 86.67 336.42 86.15 336.83 85.62 337.24 85.09 337.65 84.56 338.06 84.03 338.47 83.5" fill="none" stroke="#ff0000" stroke-width="1.5" stroke-linejoin="round" stroke-linecap="round"/>
<path d="M338.47 83.5 338.87 82.96 339.27 82.43 339.68 81.89 340.08 81.35 340.47 80.81 340.87 80.26" fill="none" stroke="#ff0000" stroke-width="1.5" stroke-linejoin="round" stroke-linecap="round"/>
<path d="M340.87 80.26 341.26 79.72" fill="none" stroke="#ff0000" stroke-width="1.5" stroke-linejoin="round" stroke-linecap="round"/>
<path d="M51.9 222.0h0M52.5 222.4h0M52.5 222.7h0M53.8 223.0h0M54.2 223.6h0M54.3 223.0h0M59.1 222.7h0M59.6 222.9h0M64.5 221.8h0M64.2 219.9h0M64.9 221.0h0M65.3 220.5h0M66.6 222.0h0M66.2 219.7h0M66.6 220.3h0M66.9 219.5h0M68.5 220.1h0M69.8 219.9h0M69.9 220.5h0M70.2 220.8h0M73.7 219.0h0M74.8 219.8h0M75.4 220.2h0M77.7 218.9h0M80.9 219.5h0M82.5 218.5h0M85.0 218.1h0M85.9 216.4h0M87.6 217.3h0M87.8 218.2h0M88.2 217.7h0M89.5 216.4h0M90.0 217.7h0M92.7 215.7h0M92.9 215.8h0M93.8 215.2h0M94.7 215.8h0M94.5 214.9h0M98.1 215.2h0M99.8 216.0h0M100.8 214.6h0M102.4 213.4h0M102.6 214.6h0M104.4 214.7h0M105.0 212.4h0M105.4 213.0h0M106.3 213.7h0M107.0 212.2h0M110.0 212.0h0M110.5 212.1h0M110.7 212.8h0M112.7 211.4h0M114.8 210.5h0M114.9 211.2h0M116.1 210.6h0M116.3 210.3h0M116.9 209.9h0M119.4 209.6h0M121.4 211.3h0M122.6 209.0h0M123.8 210.5h0M125.8 209.3h0M125.7 207.8h0M128.6 209.4h0M130.1 208.0h0M130.4 207.2h0M131.0 208.7h0M132.2 206.3h0M133.5 208.2h0M134.9 207.7h0M135.4 207.6h0M138.9 205.2h0M139.1 204.9h0M141.0 205.1h0M143.6 205.1h0M146.9 202.3h0M149.3 203.2h0M149.7 202.8h0M149.3 201.7h0M150.9 203.5h0M150.7 201.8h0M150.8 201.5h0M151.2 201.7h0M153.3 202.0h0M157.0 200.5h0M159.8 200.9h0M160.1 200.3h0M159.9 198.7h0M160.6 200.0h0M162.5 198.7h0M162.7 197.7h0M165.2 198.0h0M168.5 197.0h0M169.4 195.5h0M170.8 196.7h0M171.0 195.8h0M171.6 195.1h0M173.5 195.3h0M175.4 193.8h0M175.7 194.1h0M177.8 192.4h0M180.0 193.2h0M179.9 192.3h0M184.5 191.1h0M185.0 190.9h0M184.5 189.8h0M184.9 190.1h0M186.9 190.3h0M187.6 190.2h0M188.8 189.0h0M190.0 189.4h0M189.6 187.8h0M190.5 187.2h0M191.5 189.0h0M191.2 187.7h0M193.3 188.1h0M197.0 186.5h0M199.8 184.2h0M201.7 183.5h0M202.4 182.8h0M203.6 181.8h0M203.8 181.5h0M204.2 182.5h0M206.9 181.8h0M206.6 180.6h0M207.0 180.8h0M207.2 180.0h0M207.7 179.9h0M209.8 179.1h0M210.3 180.2h0M212.9 179.1h0M214.0 178.5h0M213.5 177.0h0M214.7 176.0h0M216.0 176.4h0M216.7 176.1h0M216.7 175.6h0M216.6 175.4h0M216.9 175.4h0M219.2 175.6h0M221.7 174.3h0M223.8 171.8h0M226.0 171.8h0M226.4 170.5h0M227.8 170.4h0M228.1 170.5h0M228.2 169.5h0M229.3 168.9h0M230.5 168.0h0M231.0 167.9h0M231.3 167.4h0M231.5 167.2h0M233.9 166.9h0M233.8 165.8h0M235.0 165.3h0M236.0 166.5h0M236.1 165.2h0M236.8 164.5h0M237.3 164.3h0M238.0 164.1h0M239.6 163.8h0M240.1 163.2h0M241.1 162.5h0M241.8 163.1h0M243.3 161.2h0M244.9 161.5h0M247.3 159.6h0M247.6 158.3h0M249.6 158.5h0M249.4 157.3h0M250.0 158.3h0M249.9 157.2h0M250.2 157.2h0M250.6 157.4h0M250.8 156.3h0M252.2 156.1h0M252.1 156.0h0M252.9 156.3h0M252.7 155.5h0M254.9 154.7h0M255.7 154.6h0M255.9 153.6h0M259.0 151.9h0M260.2 151.0h0M260.4 151.3h0M261.0 150.5h0M262.8 148.6h0M263.9 149.8h0M263.7 149.0h0M264.0 147.7h0M264.9 148.6h0M264.6 147.8h0M268.2 145.9h0M269.5 145.6h0M274.9 141.1h0M275.9 140.7h0M277.3 139.7h0M278.1 139.1h0M280.0 137.9h0M280.2 137.8h0M280.3 137.9h0M281.9 137.5h0M283.4 134.9h0M283.3 134.8h0M284.3 134.5h0M284.6 134.5h0M285.4 133.5h0M285.5 133.5h0M285.5 133.6h0M286.3 133.8h0M286.0 133.4h0M286.9 133.8h0M288.7 132.4h0M288.9 130.2h0M291.5 130.3h0M292.0 128.9h0M292.6 128.0h0M294.9 126.6h0M295.2 126.5h0M295.9 125.0h0M298.9 123.9h0M298.8 123.4h0M299.1 123.8h0M299.1 123.4h0M300.1 123.4h0M301.0 120.6h0M301.4 120.7h0M302.6 120.6h0M302.2 119.7h0M303.8 119.3h0M304.4 119.2h0M304.8 119.3h0M305.6 117.9h0M308.8 115.1h0M309.6 114.5h0M309.6 113.8h0M310.9 113.0h0M311.4 112.4h0M311.7 112.0h0M312.5 112.1h0M313.3 111.1h0M315.3 108.5h0M315.4 108.2h0M316.6 107.7h0M316.9 107.3h0M320.0 105.8h0M320.3 103.7h0M320.9 104.2h0M320.9 102.5h0M322.8 101.9h0M324.1 99.3h0M326.0 99.4h0M325.2 98.3h0M326.0 97.7h0M326.9 97.8h0M326.4 97.0h0M327.3 96.8h0M331.0 93.1h0M332.2 90.8h0M333.8 89.6h0M333.7 88.2h0M335.5 88.4h0M335.2 88.1h0M334.8 87.5h0M335.1 87.7h0M335.2 86.8h0M337.7 84.4h0M338.8 84.3h0M339.0 82.5h0M340.1 81.8h0M339.9 80.4h0M340.8 81.1h0" fill="none" stroke="#ff0000" stroke-width="1.1" stroke-linecap="round"/>
<path d="M121.1 205.8h0M125.1 207.5h0M135.0 204.1h0M137.5 203.9h0M140.6 203.7h0M143.6 201.4h0M145.7 201.6h0M144.8 198.5h0M150.3 201.3h0M150.4 196.4h0M152.1 197.0h0M152.9 199.7h0M155.4 199.3h0M158.8 195.3h0M161.1 195.8h0M166.6 195.1h0M168.0 194.6h0M169.5 194.4h0M174.6 192.4h0M175.3 188.7h0M176.5 190.4h0M177.9 188.6h0M180.5 189.9h0M182.4 189.2h0M188.4 186.7h0M188.6 187.4h0M188.6 183.5h0M193.0 184.9h0M193.1 185.2h0M198.3 183.5h0M202.3 179.0h0M203.8 178.6h0M204.9 179.8h0M207.3 179.0h0M207.8 175.5h0M209.7 178.2h0M210.5 177.7h0M210.9 177.4h0M214.1 174.9h0M224.3 170.7h0M224.1 166.2h0M226.6 168.8h0M227.1 168.7h0M233.0 165.8h0M233.9 165.5h0M233.8 161.2h0M240.8 161.4h0M240.5 160.0h0M242.1 160.6h0M241.6 156.9h0M250.4 150.4h0M254.3 153.0h0M252.5 149.0h0M255.4 150.0h0M267.2 140.8h0M269.4 141.4h0M269.6 139.1h0M271.8 138.7h0M276.1 138.0h0M277.5 137.4h0M281.1 130.5h0M283.4 132.8h0M284.7 132.1h0M285.7 130.1h0M290.7 126.8h0M301.2 120.0h0M303.0 118.3h0M313.5 109.1h0M312.9 104.2h0M320.0 99.5h0M322.6 99.3h0M322.7 97.3h0M321.1 94.5h0M325.1 89.6h0M334.3 86.5h0M333.1 79.3h0" fill="none" stroke="#ff0000" stroke-width="1.5" stroke-linecap="round"/>
</g>
<g clip-path="url(#cb)">
<path d="M49.8 321.3 61.2 317.2 73.5 314.4 88.3 318.3 102.5 321 117.2 315.1 177.7 325.8 191.9 324.5 317.4 340.6 339.7 338.5 341.8 338.5" fill="none" stroke="#000" stroke-width="1.15" stroke-linejoin="round" stroke-dasharray="2 1" stroke-linecap="butt"/>
<path d="M56.17 280.1 56.45 280.72 56.73 281.35 57.02 281.97 57.31 282.59 57.6 283.21 57.9 283.82" fill="none" stroke="#0000ff" stroke-width="3.27" stroke-linejoin="round" stroke-linecap="round"/>
<path d="M57.9 283.82 58.19 284.43 58.5 285.04 58.8 285.64 59.11 286.25 59.42 286.84 59.73 287.44" fill="none" stroke="#0000ff" stroke-width="3.26" stroke-linejoin="round" stroke-linecap="round"/>
<path d="M59.73 287.44 60.05 288.03 60.37 288.62 60.7 289.21 61.02 289.79 61.35 290.37 61.68 290.95" fill="none" stroke="#0000ff" stroke-width="3.26" stroke-linejoin="round" stroke-linecap="round"/>
<path d="M61.68 290.95 62.02 291.52 62.36 292.09 62.7 292.66 63.04 293.22 63.39 293.79 63.74 294.35" fill="none" stroke="#0000ff" stroke-width="3.25" stroke-linejoin="round" stroke-linecap="round"/>
<path d="M63.74 294.35 64.09 294.9 64.45 295.46 64.8 296.01 65.17 296.56 65.53 297.1 65.9 297.65" fill="none" stroke="#0000ff" stroke-width="3.24" stroke-linejoin="round" stroke-linecap="round"/>
<path d="M65.9 297.65 66.27 298.19 66.64 298.72 67.01 299.26 67.39 299.79 67.77 300.32 68.15 300.84" fill="none" stroke="#0000ff" stroke-width="3.23" stroke-linejoin="round" stroke-linecap="round"/>
<path d="M68.15 300.84 68.54 301.37 68.93 301.89 69.32 302.41 69.71 302.92 70.11 303.43 70.5 303.94" fill="none" stroke="#0000ff" stroke-width="3.22" stroke-linejoin="round" stroke-linecap="round"/>
<path d="M70.5 303.94 70.9 304.45 71.31 304.96 71.71 305.46 72.12 305.96 72.53 306.46 72.95 306.95" fill="none" stroke="#0000ff" stroke-width="3.21" stroke-linejoin="round" stroke-linecap="round"/>
<path d="M72.95 306.95 73.36 307.44 73.78 307.93 74.2 308.42 74.62 308.9 75.05 309.39 75.48 309.87" fill="none" stroke="#0000ff" stroke-width="3.2" stroke-linejoin="round" stroke-linecap="round"/>
<path d="M75.48 309.87 75.91 310.34 76.34 310.82 76.77 311.29 77.21 311.76 77.65 312.23 78.09 312.69" fill="none" stroke="#0000ff" stroke-width="3.19" stroke-linejoin="round" stroke-linecap="round"/>
<path d="M78.09 312.69 78.53 313.16 78.98 313.62 79.42 314.07 79.87 314.53 80.33 314.98 80.78 315.43" fill="none" stroke="#0000ff" stroke-width="3.18" stroke-linejoin="round" stroke-linecap="round"/>
<path d="M80.78 315.43 81.24 315.88 81.7 316.33 82.16 316.77 82.62 317.22 83.08 317.66 83.55 318.09" fill="none" stroke="#0000ff" stroke-width="3.17" stroke-linejoin="round" stroke-linecap="round"/>
<path d="M83.55 318.09 84.02 318.53 84.49 318.96 84.96 319.39 85.43 319.82 85.91 320.25 86.39 320.67" fill="none" stroke="#0000ff" stroke-width="3.16" stroke-linejoin="round" stroke-linecap="round"/>
<path d="M86.39 320.67 86.87 321.09 87.35 321.51 87.83 321.93 88.32 322.35 88.81 322.76 89.3 323.17" fill="none" stroke="#0000ff" stroke-width="3.15" stroke-linejoin="round" stroke-linecap="round"/>
<path d="M89.3 323.17 89.79 323.58 90.28 323.99 90.77 324.4 91.27 324.8 91.77 325.2 92.27 325.6" fill="none" stroke="#0000ff" stroke-width="3.14" stroke-linejoin="round" stroke-linecap="round"/>
<path d="M92.27 325.6 92.77 326 93.27 326.4 93.78 326.79 94.28 327.18 94.79 327.57 95.3 327.96" fill="none" stroke="#0000ff" stroke-width="3.12" stroke-linejoin="round" stroke-linecap="round"/>
<path d="M95.3 327.96 95.81 328.35 96.32 328.73 96.84 329.11 97.35 329.49 97.87 329.87 98.39 330.25" fill="none" stroke="#0000ff" stroke-width="3.11" stroke-linejoin="round" stroke-linecap="round"/>
<path d="M98.39 330.25 98.91 330.62 99.43 331 99.95 331.37 100.48 331.74 101 332.11 101.53 332.47" fill="none" stroke="#0000ff" stroke-width="3.1" stroke-linejoin="round" stroke-linecap="round"/>
<path d="M101.53 332.47 102.06 332.84 102.59 333.2 103.12 333.56 103.65 333.92 104.19 334.28 104.72 334.64" fill="none" stroke="#0000ff" stroke-width="3.09" stroke-linejoin="round" stroke-linecap="round"/>
<path d="M104.72 334.64 105.26 334.99 105.79 335.34 106.33 335.69 106.87 336.04 107.41 336.39 107.95 336.74" fill="none" stroke="#0000ff" stroke-width="3.07" stroke-linejoin="round" stroke-linecap="round"/>
<path d="M107.95 336.74 108.5 337.08 109.04 337.43 109.59 337.77 110.13 338.11 110.68 338.45 111.23 338.79" fill="none" stroke="#0000ff" stroke-width="3.06" stroke-linejoin="round" stroke-linecap="round"/>
<path d="M111.23 338.79 111.78 339.12 112.33 339.46 112.88 339.79 113.44 340.12 113.99 340.45 114.54 340.78" fill="none" stroke="#0000ff" stroke-width="3.05" stroke-linejoin="round" stroke-linecap="round"/>
<path d="M114.54 340.78 115.1 341.11 115.66 341.43 116.21 341.76 116.77 342.08 117.33 342.4 117.89 342.72" fill="none" stroke="#0000ff" stroke-width="3.04" stroke-linejoin="round" stroke-linecap="round"/>
<path d="M117.89 342.72 118.45 343.04 119.01 343.36 119.57 343.67 120.14 343.99 120.7 344.3 121.27 344.62" fill="none" stroke="#0000ff" stroke-width="3.02" stroke-linejoin="round" stroke-linecap="round"/>
<path d="M121.27 344.62 121.83 344.93 122.4 345.24 122.96 345.55 123.53 345.85 124.1 346.16 124.67 346.47" fill="none" stroke="#0000ff" stroke-width="3.01" stroke-linejoin="round" stroke-linecap="round"/>
<path d="M124.67 346.47 125.24 346.77 125.81 347.07 126.38 347.37 126.95 347.68 127.52 347.98 128.09 348.27" fill="none" stroke="#0000ff" stroke-width="2.99" stroke-linejoin="round" stroke-linecap="round"/>
<path d="M128.09 348.27 128.67 348.57 129.24 348.87 129.81 349.16 130.39 349.46 130.96 349.75 131.54 350.04" fill="none" stroke="#0000ff" stroke-width="2.98" stroke-linejoin="round" stroke-linecap="round"/>
<path d="M131.54 350.04 132.12 350.33 132.69 350.62 133.27 350.91 133.85 351.19 134.43 351.48 135.01 351.77" fill="none" stroke="#0000ff" stroke-width="2.97" stroke-linejoin="round" stroke-linecap="round"/>
<path d="M135.01 351.77 135.59 352.05 136.17 352.33 136.75 352.61 137.33 352.89 137.91 353.17 138.49 353.45" fill="none" stroke="#0000ff" stroke-width="2.95" stroke-linejoin="round" stroke-linecap="round"/>
<path d="M138.49 353.45 139.08 353.73 139.66 354.01 140.25 354.28 140.83 354.55 141.42 354.83 142 355.1" fill="none" stroke="#0000ff" stroke-width="2.94" stroke-linejoin="round" stroke-linecap="round"/>
<path d="M142 355.1 142.59 355.37 143.18 355.64 143.76 355.91 144.35 356.18 144.94 356.44 145.53 356.71" fill="none" stroke="#0000ff" stroke-width="2.92" stroke-linejoin="round" stroke-linecap="round"/>
<path d="M145.53 356.71 146.12 356.97 146.71 357.24 147.3 357.5 147.89 357.76 148.48 358.02 149.08 358.28" fill="none" stroke="#0000ff" stroke-width="2.91" stroke-linejoin="round" stroke-linecap="round"/>
<path d="M149.08 358.28 149.67 358.54 150.26 358.8 150.86 359.05 151.45 359.31 152.04 359.56 152.64 359.82" fill="none" stroke="#0000ff" stroke-width="2.89" stroke-linejoin="round" stroke-linecap="round"/>
<path d="M152.64 359.82 153.24 360.07 153.83 360.32 154.43 360.57 155.03 360.82 155.62 361.07 156.22 361.31" fill="none" stroke="#0000ff" stroke-width="2.87" stroke-linejoin="round" stroke-linecap="round"/>
<path d="M156.22 361.31 156.82 361.56 157.42 361.81 158.02 362.05 158.62 362.3 159.22 362.54 159.82 362.78" fill="none" stroke="#0000ff" stroke-width="2.85" stroke-linejoin="round" stroke-linecap="round"/>
<path d="M159.82 362.78 160.42 363.02 161.02 363.26 161.63 363.5 162.23 363.74 162.83 363.97 163.43 364.21" fill="none" stroke="#0000ff" stroke-width="2.83" stroke-linejoin="round" stroke-linecap="round"/>
<path d="M163.43 364.21 164.04 364.45 164.64 364.68 165.25 364.91 165.85 365.15 166.46 365.38 167.07 365.61" fill="none" stroke="#0000ff" stroke-width="2.81" stroke-linejoin="round" stroke-linecap="round"/>
<path d="M167.07 365.61 167.67 365.84 168.28 366.07 168.89 366.29 169.49 366.52 170.1 366.75 170.71 366.97" fill="none" stroke="#0000ff" stroke-width="2.79" stroke-linejoin="round" stroke-linecap="round"/>
<path d="M170.71 366.97 171.32 367.2 171.93 367.42 172.54 367.64 173.15 367.87 173.76 368.09 174.37 368.31" fill="none" stroke="#0000ff" stroke-width="2.76" stroke-linejoin="round" stroke-linecap="round"/>
<path d="M174.37 368.31 174.98 368.53 175.59 368.74 176.21 368.96 176.82 369.18 177.43 369.39 178.04 369.61" fill="none" stroke="#0000ff" stroke-width="2.74" stroke-linejoin="round" stroke-linecap="round"/>
<path d="M178.04 369.61 178.66 369.82 179.27 370.04 179.89 370.25 180.5 370.46 181.12 370.67 181.73 370.88" fill="none" stroke="#0000ff" stroke-width="2.72" stroke-linejoin="round" stroke-linecap="round"/>
<path d="M181.73 370.88 182.35 371.09 182.96 371.3 183.58 371.51 184.2 371.71 184.81 371.92 185.43 372.12" fill="none" stroke="#0000ff" stroke-width="2.7" stroke-linejoin="round" stroke-linecap="round"/>
<path d="M185.43 372.12 186.05 372.33 186.67 372.53 187.29 372.74 187.9 372.94 188.52 373.14 189.14 373.34" fill="none" stroke="#0000ff" stroke-width="2.68" stroke-linejoin="round" stroke-linecap="round"/>
<path d="M189.14 373.34 189.76 373.54 190.38 373.74 191 373.94 191.62 374.13 192.24 374.33 192.87 374.53" fill="none" stroke="#0000ff" stroke-width="2.65" stroke-linejoin="round" stroke-linecap="round"/>
<path d="M192.87 374.53 193.49 374.72 194.11 374.92 194.73 375.11 195.35 375.3 195.98 375.5 196.6 375.69" fill="none" stroke="#0000ff" stroke-width="2.63" stroke-linejoin="round" stroke-linecap="round"/>
<path d="M196.6 375.69 197.22 375.88 197.85 376.07 198.47 376.26 199.09 376.45 199.72 376.63 200.34 376.82" fill="none" stroke="#0000ff" stroke-width="2.61" stroke-linejoin="round" stroke-linecap="round"/>
<path d="M200.34 376.82 200.97 377.01 201.59 377.19 202.22 377.38 202.84 377.56 203.47 377.75 204.1 377.93" fill="none" stroke="#0000ff" stroke-width="2.59" stroke-linejoin="round" stroke-linecap="round"/>
<path d="M204.1 377.93 204.72 378.11 205.35 378.3 205.98 378.48 206.6 378.66 207.23 378.84 207.86 379.02" fill="none" stroke="#0000ff" stroke-width="2.57" stroke-linejoin="round" stroke-linecap="round"/>
<path d="M207.86 379.02 208.49 379.2 209.11 379.37 209.74 379.55 210.37 379.73 211 379.9 211.63 380.08" fill="none" stroke="#0000ff" stroke-width="2.55" stroke-linejoin="round" stroke-linecap="round"/>
<path d="M211.63 380.08 212.26 380.25 212.89 380.43 213.52 380.6 214.15 380.77 214.78 380.95 215.41 381.12" fill="none" stroke="#0000ff" stroke-width="2.52" stroke-linejoin="round" stroke-linecap="round"/>
<path d="M215.41 381.12 216.04 381.29 216.67 381.46 217.3 381.63 217.93 381.8 218.56 381.97 219.19 382.14" fill="none" stroke="#0000ff" stroke-width="2.5" stroke-linejoin="round" stroke-linecap="round"/>
<path d="M219.19 382.14 219.82 382.3 220.46 382.47 221.09 382.64 221.72 382.8 222.35 382.97 222.98 383.13" fill="none" stroke="#0000ff" stroke-width="2.48" stroke-linejoin="round" stroke-linecap="round"/>
<path d="M222.98 383.13 223.62 383.3 224.25 383.46 224.88 383.62 225.52 383.78 226.15 383.95 226.78 384.11" fill="none" stroke="#0000ff" stroke-width="2.46" stroke-linejoin="round" stroke-linecap="round"/>
<path d="M226.78 384.11 227.42 384.27 228.05 384.43 228.68 384.59 229.32 384.75 229.95 384.91 230.59 385.06" fill="none" stroke="#0000ff" stroke-width="2.44" stroke-linejoin="round" stroke-linecap="round"/>
<path d="M230.59 385.06 231.22 385.22 231.85 385.38 232.49 385.53 233.12 385.69 233.76 385.85 234.39 386" fill="none" stroke="#0000ff" stroke-width="2.42" stroke-linejoin="round" stroke-linecap="round"/>
<path d="M234.39 386 235.03 386.16 235.66 386.31" fill="none" stroke="#0000ff" stroke-width="2.41" stroke-linejoin="round" stroke-linecap="round"/>
<path d="M235.03 386.16 235.66 386.31 236.3 386.46 236.93 386.62 237.57 386.77 238.2 386.92 238.84 387.07 239.48 387.22 240.11 387.37 240.75 387.52 241.38 387.67 242.02 387.82 242.66 387.97 243.29 388.12 243.93 388.27 244.56 388.42 245.2 388.56 245.84 388.71 246.47 388.86 247.11 389 247.75 389.15 248.38 389.29 249.02 389.44 249.66 389.58 250.29 389.73 250.93 389.87 251.57 390.01 252.2 390.15 252.84 390.3 253.48 390.44 254.11 390.58 254.75 390.72 255.39 390.86 256.03 391 256.66 391.14 257.3 391.28 257.94 391.42 258.57 391.56 259.21 391.7 259.85 391.84" fill="none" stroke="#0000ff" stroke-width="2.3" stroke-linejoin="round" stroke-dasharray="4 0.7" stroke-linecap="butt"/>
<path d="M260.49 391.97 261.12 392.11 261.76 392.25 262.4 392.38 263.03 392.52 263.67 392.66 264.31 392.79 264.94 392.93 265.58 393.06 266.22 393.2 266.86 393.33 267.49 393.47 268.13 393.6 268.77 393.74 269.4 393.87 270.04 394 270.68 394.13 271.31 394.27 271.95 394.4 272.59 394.53 273.22 394.66 273.86 394.79 274.49 394.93 275.13 395.06 275.77 395.19 276.4 395.32 277.04 395.45 277.68 395.58 278.31 395.71 278.95 395.84 279.58 395.97 280.22 396.09 280.85 396.22 281.49 396.35 282.12 396.48 282.76 396.61 283.39 396.74 284.03 396.86 284.66 396.99 285.3 397.12 285.93 397.25 286.57 397.37 287.2 397.5 287.84 397.63 288.47 397.75 289.11 397.88 289.74 398" fill="none" stroke="#0000ff" stroke-width="2.1" stroke-linejoin="round" stroke-dasharray="2.6 1.2" stroke-linecap="butt"/>
<path d="M290.37 398.13 291.01 398.26 291.64 398.38 292.27 398.51 292.91 398.63 293.54 398.76 294.17 398.88 294.81 399.01 295.44 399.13 296.07 399.26 296.7 399.38 297.33 399.5 297.97 399.63 298.6 399.75 299.23 399.88 299.86 400 300.49 400.12 301.12 400.25 301.75 400.37 302.38 400.49 303.01 400.62 303.65 400.74 304.28 400.86 304.9 400.99 305.53 401.11 306.16 401.23 306.79 401.35 307.42 401.48 308.05 401.6 308.68 401.72 309.31 401.84 309.94 401.97 310.56 402.09 311.19 402.21 311.82 402.33 312.45 402.46 313.07 402.58 313.7 402.7 314.33 402.82 314.95 402.95 315.58 403.07 316.2 403.19 316.83 403.31 317.45 403.43 318.08 403.56 318.7 403.68 319.33 403.8 319.95 403.92" fill="none" stroke="#0000ff" stroke-width="2.0" stroke-linejoin="round" stroke-dasharray="2 1.6" stroke-linecap="butt"/>
<path d="M320.58 404.04 321.2 404.17 321.82 404.29 322.45 404.41 323.07 404.53 323.69 404.66 324.31 404.78 324.94 404.9 325.56 405.02 326.18 405.14 326.8 405.27 327.42 405.39 328.04 405.51 328.66 405.63 329.28 405.76 329.9 405.88 330.52 406 331.14 406.13 331.76 406.25 332.37 406.37 332.99 406.5 333.61 406.62 334.23 406.74 334.84 406.87 335.46 406.99 336.08 407.11 336.69 407.24 337.31 407.36 337.92 407.48 338.54 407.61 339.15 407.73 339.77 407.86 340.38 407.98 340.99 408.11" fill="none" stroke="#0000ff" stroke-width="1.9" stroke-linejoin="round" stroke-dasharray="1.6 2.2" stroke-linecap="butt"/>
<path d="M50.5 494.5h0M49.9 493.8h0M49.2 493.3h0M50.0 493.6h0M50.3 493.8h0M50.7 494.0h0M51.4 494.2h0M49.8 493.1h0M49.8 493.2h0M51.2 494.1h0M50.5 493.6h0M50.9 493.6h0M50.1 493.0h0M50.9 493.2h0M50.1 492.7h0M51.1 493.4h0M51.3 493.2h0M51.6 493.4h0M49.7 492.2h0M51.5 493.4h0M50.4 492.7h0M50.6 492.8h0M51.7 493.2h0M50.3 492.3h0M50.2 491.9h0M51.5 492.8h0M51.6 492.8h0M52.2 492.9h0M51.4 492.4h0M51.4 492.4h0M52.2 492.9h0M50.2 491.4h0M50.5 491.5h0M50.5 491.6h0M51.3 491.8h0M52.2 492.3h0M51.9 491.8h0M51.2 491.4h0M51.7 491.7h0M51.9 491.8h0M51.9 491.8h0M50.7 490.8h0M51.6 491.3h0M51.7 491.4h0M51.8 491.2h0M51.0 490.7h0M51.5 490.7h0M51.8 490.9h0M50.9 490.3h0M52.0 491.0h0M52.9 491.6h0M51.6 490.5h0M51.4 490.4h0M52.2 490.8h0M51.6 490.4h0M52.3 490.9h0M52.2 490.8h0M51.0 490.1h0M51.9 490.6h0M51.3 490.0h0M52.2 490.5h0M53.4 490.9h0M51.6 489.9h0M51.4 489.8h0M52.5 490.1h0M53.5 490.7h0M53.8 490.6h0M51.6 489.3h0M52.6 489.9h0M51.8 489.2h0M53.3 490.0h0M51.7 488.8h0M52.6 489.3h0M53.4 489.5h0M52.4 488.9h0M52.6 489.0h0M53.6 489.6h0M52.9 488.9h0M54.0 489.5h0M53.2 489.1h0M52.7 488.5h0M52.8 488.3h0M53.7 488.8h0M53.6 488.7h0M54.0 489.0h0M53.2 488.5h0M52.1 487.9h0M53.4 488.6h0M54.2 489.1h0M54.3 488.9h0M54.4 488.9h0M54.6 489.0h0M52.5 487.8h0M52.4 487.8h0M52.6 487.6h0M53.5 488.1h0M53.9 488.3h0M54.1 488.4h0M54.8 488.2h0M53.0 487.3h0M53.9 487.7h0M52.9 487.2h0M53.7 487.3h0M54.4 487.8h0M54.5 487.8h0M53.8 487.4h0M54.2 487.7h0M54.3 487.7h0M53.8 487.1h0M55.1 487.8h0M53.2 486.8h0M53.1 486.7h0M52.7 486.6h0M54.4 487.2h0M54.1 487.0h0M55.0 487.5h0M53.4 486.6h0M54.2 486.8h0M55.4 487.4h0M55.3 487.4h0M53.0 486.1h0M54.7 487.0h0M53.8 486.6h0M53.3 486.3h0M53.3 486.3h0M53.6 486.2h0M55.3 487.1h0M54.3 486.6h0M54.8 486.8h0M55.1 487.0h0M54.7 486.8h0M55.0 486.9h0M55.8 487.0h0M53.2 485.7h0M54.3 486.0h0M54.1 485.9h0M54.5 486.1h0M55.9 486.5h0M54.2 485.7h0M55.3 486.2h0M53.4 485.2h0M54.5 485.5h0M55.1 485.8h0M53.5 485.0h0M55.7 486.1h0M55.3 485.7h0M53.7 484.9h0M55.6 485.5h0M55.3 485.4h0M54.4 484.7h0M55.4 485.1h0M55.8 485.3h0M54.6 484.7h0M54.1 484.2h0M55.9 485.1h0M55.2 484.8h0M56.6 485.2h0M56.6 485.2h0M55.1 484.5h0M55.6 484.4h0M56.6 484.9h0M55.5 484.3h0M54.8 483.7h0M56.2 484.4h0M55.0 483.9h0M56.5 484.3h0M55.0 483.0h0M56.9 483.9h0M56.7 483.8h0M54.8 482.7h0M56.3 483.3h0M56.6 483.5h0M56.3 483.4h0M56.7 483.5h0M55.7 482.8h0M55.5 482.7h0M56.8 483.0h0M55.9 482.6h0M56.3 482.5h0M56.5 482.6h0M55.9 482.3h0M56.6 482.6h0M55.2 481.7h0M55.2 481.7h0M55.3 481.8h0M57.2 482.7h0M55.2 481.5h0M55.6 481.7h0M57.5 482.5h0M57.3 482.1h0M57.2 482.1h0M56.9 481.7h0M57.8 482.1h0M58.0 482.2h0M55.5 481.1h0M56.5 481.2h0M57.8 481.5h0M57.2 481.3h0M56.4 480.9h0M56.1 480.5h0M56.1 480.2h0M56.6 480.2h0M57.8 480.7h0M56.8 480.3h0M56.6 479.9h0M58.6 480.5h0M58.0 480.2h0M57.5 479.8h0M56.8 479.5h0M56.6 479.1h0M56.5 479.1h0M58.2 479.8h0M56.3 479.0h0M57.9 479.7h0M56.5 479.1h0M58.1 479.7h0M58.3 479.6h0M58.5 479.7h0M56.6 478.9h0M57.2 479.1h0M58.5 479.4h0M59.0 479.3h0M57.9 478.9h0M57.5 478.7h0M57.1 478.2h0M58.1 478.7h0M57.3 478.3h0M58.9 479.0h0M57.4 478.1h0M56.8 477.9h0M58.1 478.1h0M56.7 477.6h0M59.6 478.5h0M58.3 477.9h0M58.8 477.9h0M57.1 477.2h0M56.9 477.1h0M59.5 477.9h0M59.4 477.8h0M58.7 477.6h0M58.5 477.5h0M58.2 477.4h0M58.9 477.6h0M57.6 477.1h0M57.4 476.8h0M59.4 477.6h0M59.6 477.7h0M59.7 477.4h0M58.6 477.0h0M59.2 477.2h0M60.1 477.3h0M59.3 477.0h0M57.6 476.1h0M58.2 476.3h0M58.2 476.3h0M57.5 475.8h0M58.4 476.1h0M58.7 476.0h0M59.4 476.2h0M60.0 476.4h0M58.9 476.0h0M59.3 475.9h0M57.7 475.3h0M59.0 475.8h0M58.1 475.4h0M59.0 475.8h0M58.9 475.5h0M59.3 475.4h0M58.7 475.1h0M59.8 475.3h0M58.6 474.6h0M58.8 474.7h0M59.7 475.0h0M58.9 474.4h0M58.5 474.3h0M58.2 473.9h0M59.2 474.3h0M60.1 474.6h0M60.9 474.9h0M58.2 473.7h0M60.6 474.5h0M58.7 473.6h0M58.5 473.2h0M58.8 473.3h0M59.7 473.6h0M59.0 473.4h0M58.9 473.4h0M61.2 473.9h0M59.8 473.4h0M60.1 473.3h0M60.1 473.3h0M59.5 473.1h0M59.4 473.0h0M61.1 473.4h0M61.2 473.1h0M61.5 473.3h0M60.7 472.9h0M61.6 473.3h0M60.1 472.8h0M59.9 472.4h0M59.0 471.8h0M60.4 472.3h0M59.2 471.6h0M59.2 471.6h0M60.9 472.2h0M59.6 471.8h0M60.2 472.0h0M60.9 472.2h0M59.4 471.5h0M61.0 472.0h0M59.6 471.2h0M61.0 471.7h0M61.1 471.5h0M62.1 471.8h0M61.4 471.6h0M60.3 470.9h0M61.5 471.4h0M61.3 471.0h0M60.5 470.8h0M61.8 470.9h0M60.6 470.5h0M60.5 470.2h0M62.2 470.8h0M60.1 469.8h0M62.5 470.7h0M60.4 469.9h0M62.0 470.5h0M61.5 470.3h0M61.8 470.2h0M59.7 469.4h0M62.3 470.3h0M60.9 469.9h0M62.5 470.1h0M60.1 469.3h0M61.8 469.6h0M60.4 469.1h0M61.7 469.3h0M61.9 469.4h0M62.7 469.7h0M61.7 469.3h0M60.9 468.8h0M60.5 468.7h0M61.5 469.0h0M61.1 468.9h0M62.6 469.1h0M60.4 468.3h0M60.2 468.3h0M61.7 468.5h0M63.2 469.0h0M61.2 468.4h0M61.4 468.4h0M61.6 468.5h0M62.1 468.7h0M60.3 468.1h0M61.4 468.2h0M61.3 467.9h0M62.6 468.3h0M61.6 468.0h0M62.8 468.4h0M60.7 467.4h0M60.6 467.4h0M61.0 467.5h0M60.4 467.3h0M61.2 467.3h0M61.3 467.4h0M61.7 467.5h0M61.4 467.4h0M63.2 467.7h0M63.5 467.8h0M63.4 467.5h0M63.6 467.3h0M62.8 467.1h0M61.9 466.5h0M62.8 466.8h0M63.5 466.7h0M62.3 466.1h0M63.3 466.4h0M62.6 466.2h0M61.1 465.7h0M63.3 466.4h0M61.3 465.5h0M62.1 465.8h0M62.1 465.2h0M62.6 465.4h0M64.3 465.7h0M62.4 465.1h0M63.9 465.3h0M61.8 464.6h0M63.1 464.8h0M64.1 465.1h0M64.1 465.1h0M64.4 464.9h0M64.2 464.9h0M62.2 464.2h0M61.7 463.8h0M62.2 464.0h0M61.8 463.8h0M62.0 463.6h0M64.6 464.5h0M63.7 464.2h0M64.7 464.5h0M64.5 464.5h0M63.2 463.8h0M63.8 463.7h0M64.0 463.5h0M61.9 462.8h0M62.9 462.9h0M64.4 463.1h0M64.1 463.0h0M63.7 462.9h0M64.4 463.1h0M64.1 462.7h0M63.0 462.4h0M65.0 463.0h0M63.3 462.5h0M64.0 462.7h0M62.6 462.0h0M62.5 462.0h0M63.1 462.2h0M62.8 462.1h0M65.2 462.8h0M63.8 462.4h0M64.9 462.7h0M64.6 462.4h0M64.0 462.2h0M62.7 461.8h0M63.3 461.9h0M64.0 461.9h0M62.8 461.5h0M64.9 462.2h0M63.6 461.5h0M65.3 462.1h0M63.8 461.6h0M62.9 461.3h0M65.3 461.8h0M62.5 460.9h0M62.8 461.0h0M63.8 461.1h0M65.2 461.5h0M63.2 460.9h0M63.3 460.7h0M63.3 460.7h0M62.9 460.5h0M63.9 460.8h0M64.6 461.1h0M62.8 460.2h0M62.7 460.2h0M62.8 460.2h0M63.6 460.5h0M65.0 460.9h0M62.7 460.2h0M63.0 460.0h0M64.3 460.5h0M65.3 460.8h0M65.4 460.8h0M62.9 459.7h0M63.6 460.0h0M63.9 459.8h0M65.4 460.3h0M65.8 460.1h0M63.0 459.2h0M65.9 460.2h0M64.9 459.6h0M65.0 459.6h0M65.8 459.9h0M63.5 459.1h0M66.0 459.7h0M66.1 459.7h0M65.6 459.5h0M66.0 459.7h0M66.2 459.7h0M64.6 459.0h0M63.8 458.7h0M64.8 458.8h0M65.0 458.8h0M66.3 459.2h0M65.3 458.9h0M64.3 458.6h0M64.8 458.5h0M66.2 459.0h0M64.9 458.3h0M65.5 458.5h0M66.5 458.8h0M65.8 458.6h0M65.7 458.3h0M66.7 458.3h0M66.4 458.2h0M65.0 457.8h0M66.2 458.2h0M66.7 458.1h0M63.7 457.1h0M64.4 457.3h0M64.8 457.4h0M65.5 457.7h0M65.1 457.5h0M63.9 456.9h0M64.2 457.0h0M66.8 457.6h0M66.4 457.2h0M64.6 456.3h0M64.6 456.1h0M65.6 456.4h0M67.1 456.9h0M64.7 455.8h0M65.8 456.2h0M64.1 455.7h0M65.8 456.2h0M66.0 456.0h0M67.2 456.4h0M66.7 456.0h0M65.3 455.5h0M66.9 456.0h0M64.3 455.2h0M67.4 455.9h0M64.9 455.1h0M64.9 455.1h0M64.4 455.0h0M66.9 455.5h0M65.0 454.9h0M66.0 455.2h0M67.5 455.4h0M66.8 454.9h0M66.0 454.4h0M67.8 455.0h0M65.6 454.3h0M66.0 454.2h0M67.9 454.8h0M66.3 454.0h0M67.0 454.2h0M65.8 453.6h0M67.0 454.0h0M66.6 453.8h0M67.4 453.8h0M66.0 453.4h0M64.9 453.0h0M65.8 452.8h0M68.2 453.5h0M66.8 453.1h0M67.9 453.2h0M68.1 453.3h0M67.6 453.1h0M65.3 452.4h0M66.1 452.6h0M68.4 453.1h0M65.9 452.3h0M65.9 452.0h0M66.4 451.9h0M65.3 451.6h0M67.6 452.3h0M67.2 452.2h0M65.8 451.5h0M68.0 451.9h0M66.3 451.4h0M67.6 451.8h0M68.3 451.7h0M68.2 451.7h0M68.8 451.9h0M65.6 450.6h0M66.4 450.9h0M67.1 451.1h0M67.6 451.0h0M67.1 450.9h0M67.9 451.1h0M66.6 450.7h0M68.8 451.4h0M66.6 450.7h0M67.2 450.9h0M66.2 450.6h0M68.8 451.1h0M68.7 451.1h0M66.1 450.3h0M67.3 450.6h0M67.3 450.1h0M69.1 450.7h0M67.4 450.2h0M67.4 450.1h0M69.2 450.7h0M66.7 449.9h0M69.1 450.4h0M66.4 449.3h0M69.0 450.1h0M69.2 450.2h0M67.8 449.8h0M67.7 449.5h0M66.3 448.8h0M67.0 448.7h0M66.8 448.7h0M67.9 449.0h0M68.9 449.3h0M67.0 448.4h0M67.2 448.5h0M67.8 448.4h0M66.7 447.8h0M67.0 447.9h0M69.3 448.4h0M67.6 447.9h0M67.4 447.8h0M68.1 448.0h0M67.9 447.9h0M69.8 448.5h0M69.6 448.5h0M67.8 447.6h0M68.6 447.9h0M66.7 447.3h0M67.0 447.1h0M67.7 447.1h0M68.1 447.0h0M69.8 447.5h0M66.9 446.6h0M66.9 446.3h0M66.9 446.1h0M70.2 447.1h0M69.6 446.9h0M67.3 446.2h0M68.5 446.6h0M67.8 446.3h0M70.1 446.8h0M68.1 446.2h0M67.6 445.8h0M70.2 446.3h0M67.7 445.5h0M69.7 445.6h0M68.3 445.2h0M67.9 445.1h0M68.9 445.1h0M68.0 444.8h0M68.1 444.9h0M70.3 445.5h0M69.5 445.0h0M70.8 445.4h0M69.9 445.2h0M70.2 445.0h0M69.9 444.9h0M68.8 444.3h0M70.1 444.4h0M70.9 444.7h0M67.7 443.7h0M69.3 443.9h0M70.5 444.3h0M69.5 443.7h0M70.7 444.1h0M70.7 444.1h0M68.5 443.2h0M69.0 443.3h0M67.9 443.0h0M70.7 443.6h0M71.4 443.8h0M68.3 442.8h0M69.4 443.2h0M70.5 443.3h0M70.8 442.8h0M70.9 442.8h0M70.2 442.6h0M71.4 443.0h0M71.1 442.7h0M69.4 442.1h0M70.0 442.1h0M71.6 442.5h0M70.3 441.9h0M68.5 441.1h0M69.1 441.0h0M68.9 440.9h0M70.5 441.4h0M71.5 441.7h0M68.6 440.6h0M69.6 440.6h0M71.9 441.3h0M69.4 440.3h0M69.9 439.9h0M71.8 440.5h0M71.9 440.5h0M69.9 439.7h0M69.5 439.5h0M70.7 439.9h0M69.7 439.3h0M70.7 439.6h0M70.1 439.5h0M70.1 439.5h0M70.4 439.3h0M72.2 439.9h0M71.7 439.4h0M71.2 439.0h0M69.3 438.4h0M72.1 439.3h0M71.7 438.9h0M71.1 438.7h0M71.3 438.5h0M72.2 438.8h0M72.6 438.9h0M72.5 438.9h0M71.4 438.3h0M70.8 438.1h0M71.4 438.3h0M71.1 437.7h0M73.0 438.0h0M72.7 437.9h0M70.9 436.8h0M70.3 436.6h0M72.9 437.5h0M70.3 436.6h0M70.2 436.6h0M70.6 436.5h0M71.6 436.5h0M70.7 436.0h0M73.2 436.5h0M72.3 436.2h0M70.6 435.2h0M70.6 435.2h0M70.9 435.0h0M71.4 435.2h0M73.5 435.8h0M71.7 434.2h0M73.7 434.6h0M71.8 434.0h0M71.3 433.5h0M70.8 433.4h0M73.9 434.1h0M71.1 433.2h0M73.4 433.9h0M74.4 434.0h0M71.1 433.0h0M72.0 433.0h0M72.5 433.1h0M74.5 433.8h0M72.5 432.9h0M72.0 432.7h0M73.8 433.0h0M73.9 432.8h0M74.8 433.1h0M72.1 432.0h0M74.1 432.6h0M73.5 432.1h0M72.1 431.7h0M72.7 431.9h0M71.6 431.3h0M72.3 431.5h0M74.2 432.1h0M75.0 432.4h0M72.2 431.5h0M75.0 432.4h0M74.4 432.2h0M72.5 431.3h0M72.7 431.1h0M74.5 431.7h0M73.8 431.5h0M74.5 431.2h0M74.0 431.0h0M73.6 430.9h0M72.1 430.4h0M73.2 430.5h0M71.9 430.1h0M72.8 430.4h0M75.4 431.2h0M72.1 429.9h0M72.6 430.0h0M72.2 429.9h0M72.2 429.9h0M72.0 429.9h0M73.1 429.7h0M72.4 429.2h0M75.6 430.2h0M73.0 429.4h0M75.7 430.2h0M74.8 429.9h0M75.1 430.0h0M72.2 429.1h0M75.1 429.8h0M72.9 428.5h0M72.8 428.3h0M74.6 428.6h0M74.3 428.2h0M74.8 428.4h0M76.0 428.7h0M73.0 427.5h0M75.7 428.4h0M75.7 428.4h0M73.0 427.5h0M73.5 427.4h0M73.2 427.3h0M73.7 427.2h0M74.6 427.5h0M72.8 427.0h0M76.1 428.0h0M73.5 426.9h0M75.6 427.6h0M76.0 427.4h0M75.8 427.4h0M74.6 427.0h0M74.6 427.0h0M74.6 426.7h0M73.8 426.5h0M76.2 427.2h0M75.4 426.7h0M74.0 426.3h0M74.8 426.5h0M73.3 426.0h0M73.1 426.0h0M76.4 427.0h0M75.5 426.5h0M75.8 426.6h0M73.3 425.8h0M73.4 425.6h0M74.0 425.7h0M73.9 425.7h0M76.2 426.2h0M75.8 426.1h0M75.0 425.8h0M74.3 425.3h0M75.3 425.6h0M76.8 425.8h0M77.0 425.9h0M76.4 425.7h0M75.5 425.2h0M73.8 424.6h0M75.4 425.2h0M73.9 424.7h0M75.3 425.1h0M74.9 424.7h0M74.9 424.2h0M76.2 424.6h0M75.3 424.1h0M74.5 423.3h0M76.9 423.8h0M74.2 422.7h0M75.3 423.0h0M77.8 423.8h0M75.8 423.2h0M76.2 423.3h0M74.3 422.4h0M75.5 422.8h0M75.6 422.9h0M76.9 423.0h0M74.6 421.8h0M77.9 422.8h0M76.9 422.5h0M74.9 421.6h0M77.8 422.5h0M75.6 421.8h0M76.7 421.9h0M76.3 421.8h0M75.6 421.5h0M76.1 421.4h0M75.4 421.2h0M76.3 421.2h0M75.7 420.8h0M76.7 420.8h0M78.4 421.4h0M76.2 420.7h0M78.0 421.2h0M75.5 420.5h0M75.5 420.4h0M75.9 420.6h0M75.2 420.1h0M75.2 420.1h0M77.6 420.6h0M76.6 420.3h0M78.3 420.8h0M75.9 420.0h0M76.7 420.3h0M76.7 420.0h0M75.3 419.6h0M76.5 420.0h0M78.7 420.7h0M78.4 420.1h0M79.0 420.3h0M76.4 419.4h0M76.3 419.1h0M76.2 418.8h0M78.9 419.5h0M78.9 419.4h0M79.2 419.5h0M76.6 418.4h0M76.5 418.4h0M75.8 417.9h0M75.7 417.6h0M78.8 418.4h0M76.8 417.7h0M78.1 418.1h0M78.5 418.3h0M77.3 417.6h0M76.0 417.2h0M79.4 418.0h0M77.0 417.3h0M77.8 417.5h0M77.6 417.4h0M77.1 417.3h0M76.8 416.9h0M76.0 416.6h0M76.2 416.5h0M79.5 417.5h0M77.9 416.2h0M77.8 416.2h0M76.4 415.7h0M77.3 415.8h0M79.1 416.4h0M79.2 416.4h0M77.0 415.7h0M77.1 415.4h0M77.8 415.7h0M76.8 415.1h0M79.0 415.8h0M79.2 415.9h0M76.8 415.1h0M79.0 415.5h0M79.4 415.7h0M77.5 415.1h0M79.5 415.7h0M78.0 415.2h0M80.1 415.6h0M76.8 414.6h0M78.0 415.0h0M80.5 415.8h0M78.7 415.2h0M77.9 414.6h0M79.8 414.8h0M77.3 413.4h0M77.3 412.9h0M78.1 413.1h0M79.1 413.5h0M80.2 413.8h0M77.9 412.8h0M78.9 413.1h0M79.8 413.2h0M79.7 412.9h0M81.3 413.4h0M78.9 412.6h0M80.2 413.1h0M78.9 412.4h0M78.0 412.0h0M80.7 412.7h0M80.2 412.3h0M78.0 411.2h0M77.9 411.2h0M80.4 412.1h0M78.6 411.2h0M81.2 412.1h0M79.1 411.4h0M80.6 411.6h0M81.8 412.0h0M81.4 411.9h0M81.7 411.7h0M80.6 411.3h0M78.6 410.7h0M78.6 410.4h0M78.1 410.2h0M78.6 410.4h0M81.0 411.2h0M78.0 410.2h0M80.6 410.8h0M80.8 410.9h0M80.7 410.6h0M79.7 409.4h0M79.2 409.3h0M79.7 409.5h0M81.8 409.9h0M81.1 409.4h0M81.3 409.5h0M80.0 409.0h0M81.1 409.4h0M81.9 409.4h0M79.8 408.4h0M81.0 408.8h0M79.9 408.5h0M81.1 408.4h0M82.3 408.5h0M79.4 407.0h0M81.9 407.8h0M80.7 407.4h0M82.7 408.1h0M82.2 407.7h0M81.7 407.5h0M80.5 406.8h0M82.8 407.6h0M81.7 407.0h0M83.0 407.4h0M82.9 407.1h0M82.1 406.8h0M81.3 406.6h0M81.1 406.5h0M79.9 405.8h0M80.7 406.1h0M83.5 405.7h0M80.7 404.5h0M81.6 404.5h0M81.4 404.5h0M81.3 404.4h0M81.3 404.2h0M82.4 404.6h0M81.0 404.1h0M80.9 404.0h0M83.5 405.0h0M80.7 403.9h0M81.4 404.2h0M80.5 403.6h0M80.5 403.6h0M80.9 403.8h0M80.7 403.4h0M82.2 403.7h0M81.9 403.6h0M83.2 404.0h0M81.4 403.4h0M83.2 403.8h0M81.5 402.9h0M83.1 403.5h0M81.1 402.5h0M81.6 402.7h0M84.2 403.4h0M81.5 402.4h0M81.8 402.5h0M81.8 402.5h0M83.7 402.9h0M83.5 402.5h0M81.3 401.5h0M83.0 402.1h0M84.0 401.9h0M83.1 401.6h0M82.3 401.3h0M82.6 401.2h0M84.5 401.6h0M83.8 401.4h0M82.7 400.9h0M81.5 400.3h0M83.1 400.8h0M85.4 401.7h0M84.4 401.3h0M84.3 401.3h0M84.3 401.0h0M83.2 400.6h0M82.4 400.1h0M84.1 400.4h0M82.8 399.9h0M85.6 400.7h0M84.7 400.1h0M84.7 400.1h0M81.9 398.8h0M84.0 399.3h0M82.1 398.6h0M85.2 399.5h0M83.6 398.9h0M84.0 398.8h0M84.2 398.6h0M83.6 398.3h0M86.2 399.3h0M83.7 398.4h0M83.3 398.2h0M82.7 397.7h0M84.7 398.5h0M82.4 397.6h0M86.1 399.0h0M84.7 398.2h0M84.2 398.0h0M86.2 398.8h0M83.5 397.5h0M86.8 398.7h0M83.0 396.5h0M86.1 397.7h0M86.1 397.7h0M87.0 398.0h0M83.2 396.3h0M85.8 397.3h0M85.4 396.9h0M84.0 396.1h0M83.6 395.9h0M84.6 396.3h0M84.5 396.0h0M84.0 395.8h0M84.7 395.8h0M84.8 395.8h0M84.4 395.7h0M84.0 395.6h0M87.1 396.7h0M86.2 396.1h0M86.2 396.1h0M85.1 395.4h0M84.9 395.4h0M87.7 396.4h0M86.3 395.9h0M86.7 395.5h0M86.4 395.4h0M87.7 395.6h0M83.8 393.9h0M83.9 393.9h0M83.8 393.6h0M88.0 395.2h0M85.6 394.3h0M85.2 393.8h0M84.0 393.4h0M88.1 395.0h0M84.2 393.5h0M86.6 394.1h0M84.4 393.0h0M88.2 394.5h0M87.0 394.0h0M86.5 393.5h0M85.0 393.0h0M86.6 393.6h0M87.1 393.5h0M85.1 392.5h0M84.4 392.2h0M87.9 393.0h0M85.6 392.1h0M86.5 392.0h0M87.7 392.4h0M86.2 391.8h0M86.4 391.7h0M85.1 391.2h0M87.2 391.7h0M87.6 391.6h0M88.3 391.8h0M86.3 391.0h0M85.3 390.4h0M87.2 391.2h0M85.3 390.2h0M88.5 391.1h0M87.9 390.6h0M86.1 389.9h0M85.3 389.6h0M86.5 389.8h0M85.4 389.4h0M88.0 390.4h0M86.0 389.3h0M87.1 389.5h0M88.4 390.0h0M88.5 389.8h0M87.3 389.0h0M88.6 389.5h0M87.6 388.9h0M88.8 389.1h0M86.0 388.0h0M87.3 388.5h0M88.3 388.6h0M88.8 388.8h0M89.5 389.1h0M87.1 387.9h0M89.4 388.8h0M89.7 388.4h0M87.9 387.7h0M87.4 387.5h0M88.4 387.6h0M88.3 387.3h0M86.6 386.6h0M86.6 386.6h0M88.0 386.9h0M88.4 386.8h0M88.1 386.1h0M89.4 386.6h0M88.1 385.9h0M88.5 385.8h0M87.3 385.0h0M88.6 385.5h0M87.2 384.7h0M89.3 385.5h0M88.8 384.8h0M91.5 384.8h0M88.0 383.1h0M91.7 384.6h0M92.1 384.8h0M90.9 383.8h0M91.4 383.7h0M89.2 382.5h0M90.7 382.8h0M91.8 382.8h0M88.7 381.5h0M91.5 382.4h0M92.5 382.5h0M91.9 382.3h0M92.5 382.5h0M91.1 381.7h0M92.9 382.4h0M90.7 381.5h0M92.6 382.0h0M92.0 381.5h0M89.4 380.1h0M90.3 380.5h0M92.2 381.0h0M92.7 381.2h0M91.2 380.6h0M91.2 380.4h0M90.4 379.8h0M91.3 379.8h0M90.3 379.4h0M93.5 380.5h0M94.0 380.7h0M92.2 380.0h0M92.8 380.2h0M92.5 379.3h0M89.8 378.1h0M90.1 378.0h0M93.5 379.4h0M93.9 379.6h0M93.7 379.3h0M91.6 378.3h0M90.0 377.4h0M94.2 379.2h0M90.3 377.3h0M93.9 378.5h0M92.0 377.7h0M93.6 378.1h0M90.9 377.0h0M91.2 377.1h0M93.9 378.0h0M91.3 376.8h0M93.1 377.1h0M94.4 377.6h0M92.7 376.9h0M90.7 376.0h0M94.6 377.4h0M94.1 377.3h0M91.5 375.9h0M91.3 375.8h0M92.1 375.8h0M91.1 375.1h0M91.1 374.9h0M94.2 375.9h0M92.3 375.1h0M95.4 376.2h0M95.1 376.1h0M94.4 375.7h0M91.6 374.5h0M95.9 376.1h0M94.0 375.0h0M94.9 375.4h0M95.5 375.4h0M93.6 374.3h0M91.8 373.2h0M96.1 375.1h0M94.0 374.2h0M95.9 374.8h0M96.3 374.4h0M96.4 374.5h0M96.9 374.1h0M94.3 373.0h0M95.9 373.4h0M92.6 371.9h0M94.2 372.6h0M93.8 372.5h0M95.1 373.1h0M96.1 372.7h0M94.0 371.7h0M93.6 371.6h0M95.0 372.2h0M95.3 371.5h0M93.9 370.9h0M96.4 371.7h0M95.2 371.2h0M97.1 372.0h0M95.4 371.3h0M94.6 370.7h0M97.4 371.9h0M95.5 370.8h0M97.4 371.6h0M97.4 371.1h0M97.3 371.0h0M98.0 371.4h0M94.7 369.8h0M97.4 371.1h0M95.7 370.0h0M96.3 370.3h0M98.1 371.1h0M97.7 370.7h0M94.4 368.9h0M96.3 369.8h0M97.9 370.5h0M98.4 370.7h0M95.6 368.9h0M94.9 368.6h0M98.3 369.9h0M97.2 369.3h0M96.8 368.9h0M94.7 367.4h0M94.6 367.3h0M96.8 368.0h0M96.0 367.4h0M98.5 368.6h0M98.4 368.5h0M95.9 367.1h0M96.3 367.3h0M96.1 366.9h0M98.2 367.6h0M99.4 367.9h0M95.4 365.7h0M97.8 366.6h0M97.9 366.4h0M97.6 366.2h0M97.2 366.0h0M100.2 367.5h0M98.3 366.3h0M97.8 366.0h0M98.1 366.2h0M99.2 366.7h0M95.5 364.7h0M99.4 366.3h0M99.5 365.8h0M97.7 364.6h0M99.5 365.2h0M99.1 364.7h0M98.6 364.2h0M96.7 363.3h0M99.0 364.4h0M99.8 364.5h0M100.2 364.7h0M100.9 365.1h0M100.5 364.6h0M97.0 362.9h0M101.1 364.3h0M98.7 363.1h0M96.8 362.2h0M97.5 362.0h0M100.4 363.1h0M99.6 362.5h0M98.8 362.1h0M99.0 362.2h0M97.9 361.1h0M97.8 361.0h0M97.6 360.7h0M101.4 362.5h0M101.2 362.2h0M100.1 361.3h0M102.5 362.5h0M99.1 360.5h0M98.0 359.7h0M98.0 359.7h0M98.3 359.3h0M100.7 360.5h0M101.9 360.9h0M100.0 359.9h0M99.2 359.5h0M100.9 360.0h0M102.0 360.3h0M99.7 358.9h0M99.0 358.3h0M101.9 359.4h0M99.3 357.8h0M100.6 358.5h0M100.0 357.9h0M100.0 357.3h0M102.3 358.2h0M103.1 358.4h0M102.5 358.0h0M101.5 357.5h0M100.9 356.9h0M102.3 357.7h0M102.5 357.2h0M101.1 355.9h0M104.3 357.6h0M104.7 357.8h0M102.2 356.2h0M101.3 355.7h0M100.8 355.2h0M100.5 354.7h0M104.5 356.9h0M100.7 354.8h0M104.2 356.7h0M104.2 356.4h0M104.6 356.4h0M101.5 354.4h0M105.8 356.5h0M103.3 355.1h0M105.4 356.3h0M103.4 354.8h0M103.1 354.7h0M101.7 353.9h0M104.8 355.1h0M104.7 355.0h0M105.0 355.2h0M106.1 355.8h0M102.8 353.9h0M104.4 354.3h0M105.8 354.8h0M105.6 354.7h0M104.9 353.7h0M104.0 352.9h0M104.4 352.8h0M102.6 351.5h0M103.1 351.8h0M103.8 352.2h0M102.6 351.5h0M105.3 353.1h0M103.8 351.9h0M107.1 353.8h0M106.3 353.4h0M103.1 351.2h0M103.0 351.1h0M105.3 352.2h0M104.7 351.6h0M106.8 352.8h0M103.3 350.7h0M104.6 350.9h0M104.5 350.3h0M106.8 351.4h0M105.1 350.4h0M105.3 350.5h0M106.5 351.2h0M104.7 349.8h0M107.1 351.3h0M104.5 348.8h0M104.8 348.7h0M107.6 350.4h0M109.0 351.0h0M107.7 350.2h0M106.7 349.3h0M108.8 350.6h0M108.7 350.5h0M106.5 348.8h0M105.7 347.7h0M108.6 349.6h0M108.1 348.7h0M105.9 347.0h0M106.5 347.4h0M108.5 348.3h0M108.2 348.1h0M109.6 348.7h0M106.7 346.5h0M110.4 348.7h0M110.2 348.0h0M106.6 345.6h0M107.2 346.0h0M108.5 346.6h0M106.5 345.2h0M106.8 345.4h0M110.8 347.8h0M106.6 344.7h0M109.8 346.8h0M108.1 345.7h0M108.7 346.1h0M108.2 345.5h0M109.7 346.4h0M110.9 347.3h0M110.6 347.1h0M110.0 346.4h0M109.1 345.7h0M111.4 347.0h0M107.9 344.3h0M111.1 346.2h0M110.8 346.0h0M111.5 346.2h0M110.2 345.0h0M109.7 344.0h0M111.2 344.8h0M108.5 342.2h0M111.0 344.0h0M108.4 342.2h0M112.1 344.6h0M110.2 342.8h0M111.1 342.8h0M112.7 344.1h0M110.7 342.2h0M111.5 342.9h0M113.7 343.9h0M113.8 343.7h0M109.7 340.5h0M112.1 342.4h0M109.7 340.5h0M109.9 340.4h0M112.5 342.4h0M110.3 340.4h0M113.2 342.3h0M110.3 340.1h0M110.5 339.9h0M112.8 341.7h0M111.5 340.3h0M112.3 340.9h0M114.3 341.6h0M112.4 339.7h0M114.1 341.1h0M111.7 338.8h0M115.1 341.7h0M114.0 340.4h0M114.3 340.7h0M114.6 340.6h0M114.0 339.4h0M114.1 339.2h0M114.7 339.7h0M112.1 337.2h0M113.3 337.8h0M116.0 340.2h0M112.2 336.9h0M113.4 338.0h0M113.7 337.5h0M115.7 338.6h0M116.8 339.6h0M113.4 336.2h0M115.7 338.3h0M113.6 336.0h0M116.2 338.4h0M113.4 335.9h0M115.8 338.1h0M115.8 338.0h0M113.6 335.7h0M117.0 338.8h0M117.4 338.9h0M114.3 336.0h0M116.9 338.4h0M115.9 337.1h0M116.6 337.4h0M114.6 335.5h0M117.9 338.7h0M115.7 336.2h0M116.8 337.3h0M116.0 336.5h0M116.2 336.7h0M115.3 335.5h0M116.7 335.8h0M116.7 335.8h0M117.6 336.3h0M118.9 337.3h0M115.7 334.1h0M118.5 336.9h0M116.5 334.9h0M119.1 337.2h0M116.6 334.2h0M119.7 336.5h0M118.9 334.9h0M117.0 332.4h0M118.3 333.5h0M119.2 334.5h0M119.2 334.4h0M118.4 333.5h0M117.2 332.1h0M120.7 335.8h0M118.1 332.8h0M120.7 335.8h0M119.0 333.8h0M117.5 332.1h0M118.1 332.8h0M117.6 331.8h0M120.1 334.7h0M119.0 333.5h0M118.1 332.4h0M118.3 332.6h0M118.3 332.7h0M119.0 333.1h0M120.1 334.4h0M120.8 335.1h0M119.9 333.7h0M120.1 333.7h0M119.2 332.1h0M120.6 333.9h0M119.3 332.3h0M121.9 335.4h0M120.5 333.2h0M119.5 331.7h0M119.2 330.5h0M122.4 334.4h0M119.9 331.3h0M120.5 332.1h0M122.8 334.6h0M122.5 334.2h0M122.4 334.1h0M122.5 334.3h0M122.2 333.5h0M120.5 331.3h0M121.5 332.6h0M120.3 331.0h0M122.1 333.0h0M122.4 333.0h0M121.7 331.9h0M122.2 332.3h0M121.8 331.0h0M122.6 331.6h0M123.7 333.1h0M124.4 333.5h0M121.5 328.8h0M124.6 332.6h0M121.8 328.4h0M122.5 328.9h0M123.1 328.4h0M125.4 331.5h0M122.9 327.7h0M124.1 329.4h0M123.2 328.2h0M124.3 329.2h0M123.2 327.6h0M124.7 329.8h0M126.0 331.5h0M125.4 329.9h0M126.8 331.8h0M126.9 331.6h0M125.9 330.1h0M124.4 328.1h0M126.7 330.4h0M125.8 328.7h0M124.9 327.5h0M124.7 327.2h0M126.4 329.1h0M127.3 329.9h0M126.8 329.3h0M127.9 330.4h0M126.6 328.2h0M126.0 327.2h0M127.8 329.4h0M127.4 328.8h0M126.0 326.8h0M127.9 328.2h0M126.9 326.4h0M128.2 328.2h0M126.2 325.5h0M129.2 329.2h0M127.9 326.0h0M126.9 324.4h0M129.4 327.7h0M127.3 324.9h0M129.3 327.1h0M129.5 327.4h0M128.5 325.7h0M128.0 324.9h0M127.9 324.5h0M128.3 325.1h0M129.6 326.3h0M130.8 327.8h0M127.8 323.9h0M129.2 325.4h0M131.2 327.1h0M129.6 325.1h0M128.3 323.4h0M131.0 326.4h0M129.5 324.2h0M131.6 326.4h0M132.5 327.5h0M130.1 324.5h0M129.8 323.4h0M129.7 323.3h0M131.2 324.7h0M131.6 325.2h0M132.1 325.8h0M131.3 324.5h0M132.1 325.3h0M133.0 325.6h0M130.4 322.2h0M131.9 324.0h0M131.1 322.6h0M133.5 324.3h0M133.8 324.6h0M134.0 324.5h0M132.2 322.5h0M131.8 322.0h0M134.5 324.9h0M133.4 323.4h0M134.3 324.4h0M131.3 321.1h0M133.4 323.0h0M131.4 320.8h0M131.4 320.8h0M132.9 322.5h0M133.3 322.6h0M132.8 322.0h0M134.0 323.3h0M132.7 321.6h0M133.9 322.1h0M133.5 321.3h0M135.2 322.3h0M134.1 320.9h0M136.7 323.1h0M135.3 321.3h0M134.1 319.9h0M137.3 322.9h0M133.7 319.5h0M137.5 322.7h0M136.8 322.1h0M137.4 320.2h0M137.6 320.4h0M136.7 319.6h0M138.7 319.7h0M137.6 318.8h0M139.6 320.5h0M138.2 319.0h0M138.7 319.0h0M135.9 316.5h0M137.3 317.8h0M137.2 317.7h0M137.8 317.9h0M137.7 317.8h0M136.9 317.0h0M138.7 318.4h0M137.0 316.4h0M140.1 319.4h0M140.1 319.1h0M139.5 318.2h0M139.7 318.4h0M140.1 317.8h0M141.1 318.5h0M140.5 317.8h0M140.1 317.1h0M140.9 317.2h0M139.6 315.8h0M138.4 313.9h0M141.3 317.4h0M140.1 315.9h0M139.1 314.4h0M141.7 317.4h0M141.8 316.5h0M140.0 313.2h0M141.1 314.3h0M143.1 317.2h0M142.0 314.3h0M142.4 314.9h0M143.7 316.4h0M142.2 313.6h0M143.6 315.9h0M143.2 315.2h0M142.6 313.8h0M141.9 312.7h0M143.5 314.9h0M144.6 316.1h0M143.5 313.3h0M142.9 311.7h0M144.5 314.6h0M144.2 313.5h0M143.5 312.3h0M144.0 313.1h0M143.5 312.3h0M144.2 313.5h0M144.1 312.8h0M145.1 314.8h0M143.8 311.1h0M145.7 314.3h0M144.8 311.5h0M145.5 312.9h0M145.6 311.8h0M146.4 313.6h0M145.8 311.6h0M146.5 312.0h0M145.7 309.7h0M146.2 310.0h0M147.6 313.3h0M146.8 310.2h0M147.4 311.6h0M148.2 312.8h0M147.7 311.0h0M148.1 312.0h0M147.9 311.6h0M148.6 313.1h0M148.7 313.4h0M147.9 310.7h0M147.9 310.3h0M149.4 311.8h0M149.5 311.5h0M149.2 310.7h0M148.6 309.2h0M149.1 309.8h0M148.9 309.4h0M149.9 311.7h0M149.0 309.5h0M149.7 309.3h0M150.6 310.7h0M149.5 308.1h0M150.3 310.0h0M149.7 308.0h0M151.4 311.6h0M152.0 312.3h0M150.8 309.2h0M152.1 311.8h0M151.0 308.5h0M151.0 308.4h0M150.8 307.9h0M152.3 310.5h0M152.2 309.5h0M153.2 311.9h0M152.7 310.6h0M152.1 308.6h0M152.7 310.1h0M153.5 311.5h0M153.6 311.7h0M152.1 307.9h0M153.3 310.2h0M153.4 310.4h0M152.5 307.4h0M153.2 308.5h0M154.6 311.3h0M153.7 309.2h0M154.6 310.7h0M153.5 307.3h0M154.6 310.0h0M153.3 306.9h0M154.9 310.3h0M154.2 308.3h0M154.2 307.8h0M154.5 308.5h0M155.0 309.2h0M154.5 307.7h0M155.7 309.4h0M154.9 306.8h0M155.1 306.6h0M156.4 309.9h0M155.5 307.7h0M155.6 307.9h0M155.8 307.6h0M155.2 306.0h0M156.1 308.4h0M156.5 308.7h0M155.9 307.2h0M157.3 310.1h0M155.7 305.9h0M157.6 309.5h0M157.5 309.3h0M157.1 307.7h0M156.8 306.2h0M158.0 309.2h0M158.3 308.5h0M158.7 308.9h0M158.5 308.5h0M157.6 306.2h0M157.9 306.9h0M158.1 307.4h0M158.3 307.3h0M157.6 305.3h0M159.0 308.9h0M159.3 309.2h0M158.7 306.9h0M159.6 308.6h0M160.0 308.7h0M159.1 306.4h0M159.1 304.9h0M160.2 307.4h0M159.8 305.5h0M159.9 304.9h0M160.1 304.7h0M161.2 307.9h0M160.9 306.3h0M161.7 308.3h0M161.1 306.0h0M160.8 303.9h0M161.3 304.4h0M162.0 305.5h0M163.1 305.9h0M162.3 303.7h0M162.5 304.1h0M163.0 304.9h0M163.7 305.8h0M164.0 305.3h0M164.1 304.9h0M164.3 304.6h0M163.9 303.6h0M163.8 303.2h0M165.1 306.8h0M164.5 304.5h0M164.7 302.7h0M165.8 305.9h0M165.0 302.8h0M165.1 302.5h0M165.8 304.3h0M165.9 304.0h0M165.4 302.5h0M166.5 304.9h0M166.3 303.6h0M166.5 302.7h0M167.6 304.2h0M167.2 303.2h0M167.2 303.1h0M168.4 305.8h0M167.8 304.2h0M168.5 304.5h0M168.3 304.1h0M167.6 301.8h0M168.5 304.5h0M168.3 303.2h0M169.3 305.3h0M169.3 303.9h0M169.7 304.1h0M169.5 302.2h0M170.1 303.7h0M169.7 302.6h0M169.2 301.2h0M169.7 301.9h0M170.5 304.2h0M170.4 303.3h0M170.7 304.1h0M170.5 302.6h0M171.2 304.7h0M170.2 301.0h0M171.4 304.7h0M171.4 302.3h0M171.5 302.4h0M171.7 303.1h0M172.4 304.5h0M172.0 302.4h0M171.4 300.6h0M172.6 304.4h0M172.6 302.5h0M172.9 301.8h0M173.5 304.0h0M173.7 301.0h0M174.3 303.2h0M173.5 300.6h0M174.0 302.1h0M174.2 302.0h0M174.8 303.7h0M174.6 303.4h0M175.3 303.0h0M175.2 301.7h0M174.9 300.8h0M175.2 301.7h0M175.1 299.6h0M175.3 300.4h0M175.3 299.3h0M176.8 302.9h0M176.2 300.0h0M176.9 302.1h0M177.2 302.3h0M176.4 299.8h0M177.3 302.0h0M177.6 302.8h0M177.4 302.0h0M177.5 301.8h0M177.8 302.6h0M178.1 301.9h0M178.4 302.1h0M178.8 302.6h0M178.2 298.8h0M179.2 299.3h0M179.4 299.3h0M179.2 298.3h0M180.5 302.1h0M180.1 299.8h0M180.3 299.7h0M180.0 298.5h0M180.9 300.9h0M181.2 301.2h0M181.0 299.1h0M181.9 301.7h0M181.2 299.0h0M181.7 301.0h0M181.5 298.4h0M182.3 299.5h0M182.5 300.0h0M182.2 298.0h0M183.3 298.2h0M183.5 297.9h0M184.4 298.2h0M184.5 297.8h0M185.9 300.2h0M185.6 298.1h0M185.4 297.4h0M186.2 299.3h0M186.7 300.3h0M186.5 298.6h0M186.5 297.4h0M187.3 299.9h0M187.1 299.0h0M187.1 299.1h0M187.1 298.0h0M187.0 296.5h0M187.5 297.3h0M187.5 297.4h0M187.9 298.0h0M188.4 299.1h0M189.1 298.6h0M188.5 296.3h0M189.5 299.2h0M189.1 297.8h0M189.7 299.0h0M189.5 298.4h0M189.7 298.0h0M189.9 298.7h0M190.0 298.0h0M189.6 296.6h0M190.5 299.2h0M190.4 298.8h0M190.3 296.3h0M190.7 298.0h0M191.2 299.2h0M191.0 297.1h0M191.4 298.5h0M191.3 298.1h0M191.1 297.4h0M190.7 295.7h0M191.5 298.2h0M191.6 297.1h0M191.3 296.0h0M191.3 296.1h0M192.0 296.7h0M192.6 298.4h0M192.7 299.0h0M192.5 297.8h0M192.1 295.9h0M192.7 297.8h0M192.4 296.2h0M192.8 297.1h0M193.4 298.7h0M193.0 296.6h0M193.4 297.6h0M193.7 298.6h0M193.4 297.6h0M193.2 295.0h0M193.3 295.8h0M193.5 295.5h0M194.2 297.8h0M194.7 298.5h0M194.4 294.8h0M194.8 296.9h0M195.1 298.3h0M195.1 298.3h0M194.8 296.9h0M194.6 295.7h0M194.8 295.6h0M194.9 296.1h0M194.9 296.0h0M195.3 295.7h0M195.3 295.4h0M195.5 295.4h0M195.8 295.4h0M196.1 295.6h0M196.7 297.4h0M196.4 295.9h0M197.0 297.7h0M196.4 294.7h0M197.3 297.7h0M197.3 297.7h0M197.2 294.6h0M197.8 297.6h0M198.3 297.7h0M198.0 296.5h0M198.1 295.5h0M198.3 295.0h0M198.3 295.2h0M199.4 296.9h0M199.2 295.7h0M199.0 294.7h0M200.0 295.9h0M199.7 294.3h0M200.3 296.1h0M200.6 296.7h0M201.0 295.8h0M201.0 296.2h0M200.9 294.1h0M201.1 295.0h0M201.3 294.7h0M201.4 295.1h0M201.8 296.4h0M201.3 293.6h0M202.0 295.9h0M202.4 296.9h0M202.0 294.6h0M202.2 295.5h0M201.9 293.7h0M202.5 296.0h0M202.9 296.7h0M202.6 295.1h0M202.8 293.3h0M203.2 295.3h0M203.5 294.2h0M203.6 294.8h0M203.6 294.6h0M203.6 293.2h0M203.8 294.4h0M203.8 294.7h0M203.8 293.3h0M204.1 293.2h0M204.4 295.2h0M204.7 295.2h0M204.8 293.2h0M205.0 294.0h0M205.8 295.6h0M205.3 293.2h0M205.6 293.1h0M206.0 295.6h0M206.5 295.2h0M207.0 295.5h0M206.8 293.0h0M207.0 292.8h0M208.0 295.3h0M207.7 293.7h0M207.9 294.6h0M207.5 292.5h0M207.7 293.5h0M208.0 292.5h0M209.4 294.5h0M209.0 292.5h0M209.5 293.5h0M209.9 294.9h0M210.3 294.2h0M210.6 294.3h0M210.5 292.2h0M211.4 294.4h0M211.6 292.4h0M211.9 292.9h0M211.8 292.3h0M212.7 294.7h0M213.2 294.6h0M213.2 292.9h0M213.7 292.9h0M213.7 293.2h0M214.0 294.8h0M214.1 294.4h0M214.0 293.3h0M214.1 292.6h0M214.8 293.7h0M214.7 292.9h0M214.6 292.3h0M215.0 291.9h0M215.0 291.5h0M215.0 291.6h0M215.4 292.5h0M215.8 293.4h0M215.7 292.9h0M215.7 292.7h0M216.1 292.3h0M216.2 293.1h0M216.3 293.5h0M216.6 292.3h0M216.8 291.8h0M217.0 291.7h0M218.0 293.1h0M218.8 293.5h0M218.9 292.3h0M219.1 292.1h0M219.1 291.9h0M219.4 292.4h0M220.2 292.4h0M220.3 293.3h0M220.2 290.9h0M220.2 290.7h0M220.9 292.4h0M221.3 291.6h0M221.7 292.8h0M222.2 292.7h0M222.5 291.3h0M223.1 293.2h0M223.1 291.6h0M223.6 291.8h0M224.0 292.5h0M224.0 291.0h0M224.5 292.5h0M224.7 292.0h0M224.6 291.6h0M225.0 291.1h0M225.2 290.6h0M225.4 291.9h0M225.4 290.0h0M226.1 291.5h0M226.2 292.0h0M226.2 290.1h0M226.5 290.7h0M226.6 291.2h0M226.5 290.7h0M226.8 291.4h0M227.4 291.5h0M227.7 292.0h0M228.3 290.7h0M228.7 290.2h0M229.2 292.3h0M229.2 292.4h0M229.1 291.5h0M229.3 290.9h0M229.4 289.7h0M230.0 290.5h0M230.4 291.4h0M230.4 289.6h0M231.3 290.5h0M231.1 289.5h0M231.5 292.1h0M231.4 289.4h0M231.9 289.7h0M232.1 291.1h0M232.1 290.8h0M232.6 290.9h0M232.7 290.0h0M233.4 289.5h0M233.6 291.2h0M233.7 291.8h0M233.9 291.1h0M234.2 291.7h0M234.0 290.0h0M234.1 289.0h0M234.5 290.4h0M234.6 289.3h0M234.8 290.9h0M236.6 290.6h0M237.1 291.1h0M237.4 291.3h0M237.8 290.8h0M238.2 289.7h0M238.6 291.2h0M238.4 288.7h0M238.5 290.2h0M238.8 290.2h0M238.9 289.2h0M240.1 290.7h0M239.9 289.4h0M240.0 289.8h0M240.3 290.3h0M240.6 290.8h0M240.6 288.5h0M240.8 290.0h0M241.3 289.9h0M241.9 288.7h0M242.2 289.5h0M242.9 288.7h0M243.3 290.0h0M243.9 288.6h0M244.4 289.1h0M244.4 288.3h0M244.6 290.2h0M244.6 290.3h0M244.8 287.9h0M245.3 289.9h0M245.6 290.3h0M246.0 290.0h0M245.9 288.9h0M245.9 288.7h0M246.3 289.9h0M246.2 289.5h0M246.2 288.7h0M246.2 289.0h0M246.6 287.8h0M246.8 290.1h0M246.8 289.6h0M248.1 290.2h0M248.1 290.1h0M248.2 288.6h0M248.5 289.9h0M249.0 289.1h0M249.1 287.8h0M249.3 289.8h0M249.7 288.7h0M249.7 289.0h0M250.0 289.3h0M249.9 288.3h0M250.4 288.5h0M250.3 287.5h0M250.7 289.3h0M250.6 288.2h0M250.6 288.1h0M250.8 287.4h0M250.8 287.5h0M251.2 289.3h0M251.3 289.8h0M252.1 287.6h0M252.7 288.7h0M252.7 289.3h0M253.0 288.8h0M253.0 289.7h0M253.3 289.5h0M253.4 288.5h0M253.5 289.0h0M253.6 287.5h0M254.1 287.7h0M254.1 287.5h0M254.7 288.9h0M254.7 288.4h0M255.0 289.1h0M255.5 289.1h0M255.4 287.7h0M255.9 287.9h0M256.1 287.7h0M256.2 288.7h0M256.3 287.3h0M256.4 288.2h0M256.4 288.3h0M256.3 286.9h0M256.8 287.2h0M257.3 287.1h0M257.6 287.6h0M257.8 286.9h0M258.3 286.9h0M258.5 289.1h0M258.7 289.1h0M259.2 288.1h0M260.2 288.2h0M260.6 287.2h0M260.9 288.3h0M261.5 288.7h0M262.7 288.5h0M262.8 286.4h0M263.2 288.7h0M263.2 288.0h0M263.4 287.2h0M264.2 288.6h0M264.2 288.1h0M264.9 287.4h0M265.9 287.8h0M266.2 287.9h0M266.5 286.2h0M267.9 288.1h0M267.8 286.5h0M268.8 286.9h0M268.8 286.3h0M269.6 287.0h0M269.5 286.0h0M269.9 287.6h0M269.8 286.7h0M269.8 286.2h0M270.2 287.6h0M270.1 286.3h0M270.7 287.9h0M271.3 285.9h0M271.3 286.6h0M272.3 286.0h0M272.4 287.0h0M273.6 287.4h0M273.9 287.3h0M273.8 286.7h0M273.9 286.9h0M274.4 286.9h0M274.6 286.1h0M274.6 286.0h0M274.7 287.6h0M275.1 286.1h0M275.4 287.1h0M275.3 285.8h0M275.3 285.9h0M277.3 286.0h0M277.9 287.2h0M278.3 285.8h0M279.6 286.8h0M279.9 287.4h0M280.1 285.8h0M280.1 286.6h0M280.4 287.2h0M280.8 285.8h0M281.6 286.3h0M281.5 285.7h0M281.6 287.3h0M281.6 287.2h0M282.4 287.0h0M282.8 286.0h0M283.1 286.1h0M283.3 286.4h0M283.6 286.1h0M283.8 285.2h0M283.8 285.5h0M284.3 285.5h0M284.6 287.0h0M285.6 285.7h0M286.4 286.8h0M286.5 284.9h0M287.5 284.9h0M287.6 286.8h0M288.0 285.2h0M288.0 285.4h0M289.1 286.6h0M290.8 284.7h0M292.6 285.6h0M292.8 285.6h0M292.8 284.7h0M292.8 285.7h0M293.9 286.3h0M294.0 285.2h0M295.3 284.9h0M295.6 286.0h0M296.5 284.6h0M297.5 284.8h0M299.0 284.6h0M299.3 284.4h0M299.5 284.7h0M300.3 284.4h0M300.5 284.7h0M303.1 285.7h0M304.0 284.2h0M304.8 284.1h0M305.0 285.0h0M305.3 284.3h0M306.1 285.8h0M308.3 284.2h0M308.3 284.1h0M310.0 284.7h0M311.8 283.9h0M312.6 285.0h0M313.5 284.7h0M314.3 285.3h0M314.3 284.4h0M314.6 285.0h0M316.0 283.9h0M316.0 283.6h0M316.5 284.1h0M316.8 284.3h0M317.0 284.2h0M317.0 284.1h0M317.0 284.6h0M317.0 284.4h0M317.3 284.0h0M317.5 283.6h0M318.3 284.7h0M318.8 284.7h0M320.1 284.8h0M320.3 284.2h0M320.8 284.5h0M322.0 284.1h0M322.8 283.8h0M324.0 283.4h0M324.5 283.5h0M325.0 283.8h0M325.1 284.7h0M325.5 283.7h0M327.3 284.5h0M327.3 283.8h0M329.6 284.5h0M329.7 283.2h0M329.8 283.4h0M330.3 283.4h0M331.2 283.1h0M331.3 284.6h0M331.8 284.3h0M333.3 283.6h0M334.3 284.5h0M336.0 283.6h0M340.3 283.3h0" fill="none" stroke="#ff0000" stroke-width="1.7" stroke-linecap="round"/>
</g>
<rect x="49.8" y="9" width="292" height="219" fill="none" stroke="#000" stroke-width="1.3"/>
<path d="M53.5 228v-1.8M53.5 9v1.8M57.19 228v-1.8M57.19 9v1.8M60.89 228v-1.8M60.89 9v1.8M64.58 228v-1.8M64.58 9v1.8M68.28 228v-1.8M68.28 9v1.8M71.98 228v-1.8M71.98 9v1.8M75.67 228v-1.8M75.67 9v1.8M79.37 228v-1.8M79.37 9v1.8M83.07 228v-3.3M83.07 9v3.3M86.76 228v-1.8M86.76 9v1.8M90.46 228v-1.8M90.46 9v1.8M94.15 228v-1.8M94.15 9v1.8M97.85 228v-1.8M97.85 9v1.8M101.55 228v-1.8M101.55 9v1.8M105.24 228v-1.8M105.24 9v1.8M108.94 228v-1.8M108.94 9v1.8M112.64 228v-1.8M112.64 9v1.8M116.33 228v-1.8M116.33 9v1.8M120.03 228v-3.3M120.03 9v3.3M123.72 228v-1.8M123.72 9v1.8M127.42 228v-1.8M127.42 9v1.8M131.12 228v-1.8M131.12 9v1.8M134.81 228v-1.8M134.81 9v1.8M138.51 228v-1.8M138.51 9v1.8M142.21 228v-1.8M142.21 9v1.8M145.9 228v-1.8M145.9 9v1.8M149.6 228v-1.8M149.6 9v1.8M153.29 228v-1.8M153.29 9v1.8M156.99 228v-3.3M156.99 9v3.3M160.69 228v-1.8M160.69 9v1.8M164.38 228v-1.8M164.38 9v1.8M168.08 228v-1.8M168.08 9v1.8M171.77 228v-1.8M171.77 9v1.8M175.47 228v-1.8M175.47 9v1.8M179.17 228v-1.8M179.17 9v1.8M182.86 228v-1.8M182.86 9v1.8M186.56 228v-1.8M186.56 9v1.8M190.26 228v-1.8M190.26 9v1.8M193.95 228v-3.3M193.95 9v3.3M197.65 228v-1.8M197.65 9v1.8M201.34 228v-1.8M201.34 9v1.8M205.04 228v-1.8M205.04 9v1.8M208.74 228v-1.8M208.74 9v1.8M212.43 228v-1.8M212.43 9v1.8M216.13 228v-1.8M216.13 9v1.8M219.83 228v-1.8M219.83 9v1.8M223.52 228v-1.8M223.52 9v1.8M227.22 228v-1.8M227.22 9v1.8M230.91 228v-3.3M230.91 9v3.3M234.61 228v-1.8M234.61 9v1.8M238.31 228v-1.8M238.31 9v1.8M242 228v-1.8M242 9v1.8M245.7 228v-1.8M245.7 9v1.8M249.39 228v-1.8M249.39 9v1.8M253.09 228v-1.8M253.09 9v1.8M256.79 228v-1.8M256.79 9v1.8M260.48 228v-1.8M260.48 9v1.8M264.18 228v-1.8M264.18 9v1.8M267.88 228v-3.3M267.88 9v3.3M271.57 228v-1.8M271.57 9v1.8M275.27 228v-1.8M275.27 9v1.8M278.96 228v-1.8M278.96 9v1.8M282.66 228v-1.8M282.66 9v1.8M286.36 228v-1.8M286.36 9v1.8M290.05 228v-1.8M290.05 9v1.8M293.75 228v-1.8M293.75 9v1.8M297.45 228v-1.8M297.45 9v1.8M301.14 228v-1.8M301.14 9v1.8M304.84 228v-3.3M304.84 9v3.3M308.53 228v-1.8M308.53 9v1.8M312.23 228v-1.8M312.23 9v1.8M315.93 228v-1.8M315.93 9v1.8M319.62 228v-1.8M319.62 9v1.8M323.32 228v-1.8M323.32 9v1.8M327.02 228v-1.8M327.02 9v1.8M330.71 228v-1.8M330.71 9v1.8M334.41 228v-1.8M334.41 9v1.8M338.1 228v-1.8M338.1 9v1.8M49.8 206.1h3.3M49.8 184.2h3.3M49.8 162.3h3.3M49.8 140.4h3.3M49.8 118.5h3.3M49.8 96.6h3.3M49.8 74.7h3.3M49.8 52.8h3.3M49.8 30.9h3.3M341.8 219.24h-1.8M341.8 210.48h-1.8M341.8 201.72h-1.8M341.8 192.96h-1.8M341.8 184.2h-3.3M341.8 175.44h-1.8M341.8 166.68h-1.8M341.8 157.92h-1.8M341.8 149.16h-1.8M341.8 140.4h-3.3M341.8 131.64h-1.8M341.8 122.88h-1.8M341.8 114.12h-1.8M341.8 105.36h-1.8M341.8 96.6h-3.3M341.8 87.84h-1.8M341.8 79.08h-1.8M341.8 70.32h-1.8M341.8 61.56h-1.8M341.8 52.8h-3.3M341.8 44.04h-1.8M341.8 35.28h-1.8M341.8 26.52h-1.8M341.8 17.76h-1.8" stroke="#000" stroke-width="1.1" fill="none"/>
<rect x="49.8" y="280.3" width="292" height="218.8" fill="none" stroke="#000" stroke-width="1.3"/>
<path d="M52.78 499.1v-1.8M52.78 280.3v1.8M55.76 499.1v-1.8M55.76 280.3v1.8M58.74 499.1v-1.8M58.74 280.3v1.8M61.72 499.1v-1.8M61.72 280.3v1.8M64.7 499.1v-1.8M64.7 280.3v1.8M67.68 499.1v-1.8M67.68 280.3v1.8M70.66 499.1v-1.8M70.66 280.3v1.8M73.64 499.1v-3.3M73.64 280.3v3.3M76.62 499.1v-1.8M76.62 280.3v1.8M79.6 499.1v-1.8M79.6 280.3v1.8M82.58 499.1v-1.8M82.58 280.3v1.8M85.56 499.1v-1.8M85.56 280.3v1.8M88.53 499.1v-1.8M88.53 280.3v1.8M91.51 499.1v-1.8M91.51 280.3v1.8M94.49 499.1v-1.8M94.49 280.3v1.8M97.47 499.1v-1.8M97.47 280.3v1.8M100.45 499.1v-1.8M100.45 280.3v1.8M103.43 499.1v-3.3M103.43 280.3v3.3M106.41 499.1v-1.8M106.41 280.3v1.8M109.39 499.1v-1.8M109.39 280.3v1.8M112.37 499.1v-1.8M112.37 280.3v1.8M115.35 499.1v-1.8M115.35 280.3v1.8M118.33 499.1v-1.8M118.33 280.3v1.8M121.31 499.1v-1.8M121.31 280.3v1.8M124.29 499.1v-1.8M124.29 280.3v1.8M127.27 499.1v-1.8M127.27 280.3v1.8M130.25 499.1v-1.8M130.25 280.3v1.8M133.23 499.1v-3.3M133.23 280.3v3.3M136.21 499.1v-1.8M136.21 280.3v1.8M139.19 499.1v-1.8M139.19 280.3v1.8M142.17 499.1v-1.8M142.17 280.3v1.8M145.15 499.1v-1.8M145.15 280.3v1.8M148.13 499.1v-1.8M148.13 280.3v1.8M151.11 499.1v-1.8M151.11 280.3v1.8M154.09 499.1v-1.8M154.09 280.3v1.8M157.07 499.1v-1.8M157.07 280.3v1.8M160.04 499.1v-1.8M160.04 280.3v1.8M163.02 499.1v-3.3M163.02 280.3v3.3M166 499.1v-1.8M166 280.3v1.8M168.98 499.1v-1.8M168.98 280.3v1.8M171.96 499.1v-1.8M171.96 280.3v1.8M174.94 499.1v-1.8M174.94 280.3v1.8M177.92 499.1v-1.8M177.92 280.3v1.8M180.9 499.1v-1.8M180.9 280.3v1.8M183.88 499.1v-1.8M183.88 280.3v1.8M186.86 499.1v-1.8M186.86 280.3v1.8M189.84 499.1v-1.8M189.84 280.3v1.8M192.82 499.1v-3.3M192.82 280.3v3.3M195.8 499.1v-1.8M195.8 280.3v1.8M198.78 499.1v-1.8M198.78 280.3v1.8M201.76 499.1v-1.8M201.76 280.3v1.8M204.74 499.1v-1.8M204.74 280.3v1.8M207.72 499.1v-1.8M207.72 280.3v1.8M210.7 499.1v-1.8M210.7 280.3v1.8M213.68 499.1v-1.8M213.68 280.3v1.8M216.66 499.1v-1.8M216.66 280.3v1.8M219.64 499.1v-1.8M219.64 280.3v1.8M222.62 499.1v-3.3M222.62 280.3v3.3M225.6 499.1v-1.8M225.6 280.3v1.8M228.58 499.1v-1.8M228.58 280.3v1.8M231.56 499.1v-1.8M231.56 280.3v1.8M234.53 499.1v-1.8M234.53 280.3v1.8M237.51 499.1v-1.8M237.51 280.3v1.8M240.49 499.1v-1.8M240.49 280.3v1.8M243.47 499.1v-1.8M243.47 280.3v1.8M246.45 499.1v-1.8M246.45 280.3v1.8M249.43 499.1v-1.8M249.43 280.3v1.8M252.41 499.1v-3.3M252.41 280.3v3.3M255.39 499.1v-1.8M255.39 280.3v1.8M258.37 499.1v-1.8M258.37 280.3v1.8M261.35 499.1v-1.8M261.35 280.3v1.8M264.33 499.1v-1.8M264.33 280.3v1.8M267.31 499.1v-1.8M267.31 280.3v1.8M270.29 499.1v-1.8M270.29 280.3v1.8M273.27 499.1v-1.8M273.27 280.3v1.8M276.25 499.1v-1.8M276.25 280.3v1.8M279.23 499.1v-1.8M279.23 280.3v1.8M282.21 499.1v-3.3M282.21 280.3v3.3M285.19 499.1v-1.8M285.19 280.3v1.8M288.17 499.1v-1.8M288.17 280.3v1.8M291.15 499.1v-1.8M291.15 280.3v1.8M294.13 499.1v-1.8M294.13 280.3v1.8M297.11 499.1v-1.8M297.11 280.3v1.8M300.09 499.1v-1.8M300.09 280.3v1.8M303.07 499.1v-1.8M303.07 280.3v1.8M306.04 499.1v-1.8M306.04 280.3v1.8M309.02 499.1v-1.8M309.02 280.3v1.8M312 499.1v-3.3M312 280.3v3.3M314.98 499.1v-1.8M314.98 280.3v1.8M317.96 499.1v-1.8M317.96 280.3v1.8M320.94 499.1v-1.8M320.94 280.3v1.8M323.92 499.1v-1.8M323.92 280.3v1.8M326.9 499.1v-1.8M326.9 280.3v1.8M329.88 499.1v-1.8M329.88 280.3v1.8M332.86 499.1v-1.8M332.86 280.3v1.8M335.84 499.1v-1.8M335.84 280.3v1.8M338.82 499.1v-1.8M338.82 280.3v1.8M49.8 477.22h3.3M49.8 455.34h3.3M49.8 433.46h3.3M49.8 411.58h3.3M49.8 389.7h3.3M49.8 367.82h3.3M49.8 345.94h3.3M49.8 324.06h3.3M49.8 302.18h3.3M341.8 490.35h-1.8M341.8 481.6h-1.8M341.8 472.84h-1.8M341.8 464.09h-1.8M341.8 455.34h-3.3M341.8 446.59h-1.8M341.8 437.84h-1.8M341.8 429.08h-1.8M341.8 420.33h-1.8M341.8 411.58h-3.3M341.8 402.83h-1.8M341.8 394.08h-1.8M341.8 385.32h-1.8M341.8 376.57h-1.8M341.8 367.82h-3.3M341.8 359.07h-1.8M341.8 350.32h-1.8M341.8 341.56h-1.8M341.8 332.81h-1.8M341.8 324.06h-3.3M341.8 315.31h-1.8M341.8 306.56h-1.8M341.8 297.8h-1.8M341.8 289.05h-1.8" stroke="#000" stroke-width="1.1" fill="none"/>
<path d="M262.9 18.5h9" stroke="#000" stroke-width="1.25" stroke-dasharray="2.33 1"/>
<text x="275.5" y="21.7" font-size="8.3">Approx. Bounds</text>
<text x="262.8" y="35.8" font-size="8.3">M<tspan font-size="6.47" dy="2.32">1</tspan><tspan dy="-2.32"> = 300 [GeV]</tspan></text>
<text x="262.8" y="50.7" font-size="8.3">M<tspan font-size="6.47" dy="2.32">2</tspan><tspan dy="-2.32"> = 2M</tspan><tspan font-size="6.47" dy="2.32">1</tspan></text>
<path d="M243 429.9h15" stroke="#000" stroke-width="1.3" stroke-dasharray="3 1"/>
<text x="265.6" y="432.9" font-size="9.1">Approx. Bounds</text>
<text x="243.6" y="448.7" font-size="9.1">M<tspan font-size="7.1" dy="2.55">1</tspan><tspan dy="-2.55"> = 300 [GeV]</tspan></text>
<text x="243.6" y="467.6" font-size="9.1">M<tspan font-size="7.1" dy="2.55">2</tspan><tspan dy="-2.55"> = 320 [GeV]</tspan></text>
<text x="243.4" y="487.4" font-size="9.0">tan β = 10</text>
</svg>
</body></html>
